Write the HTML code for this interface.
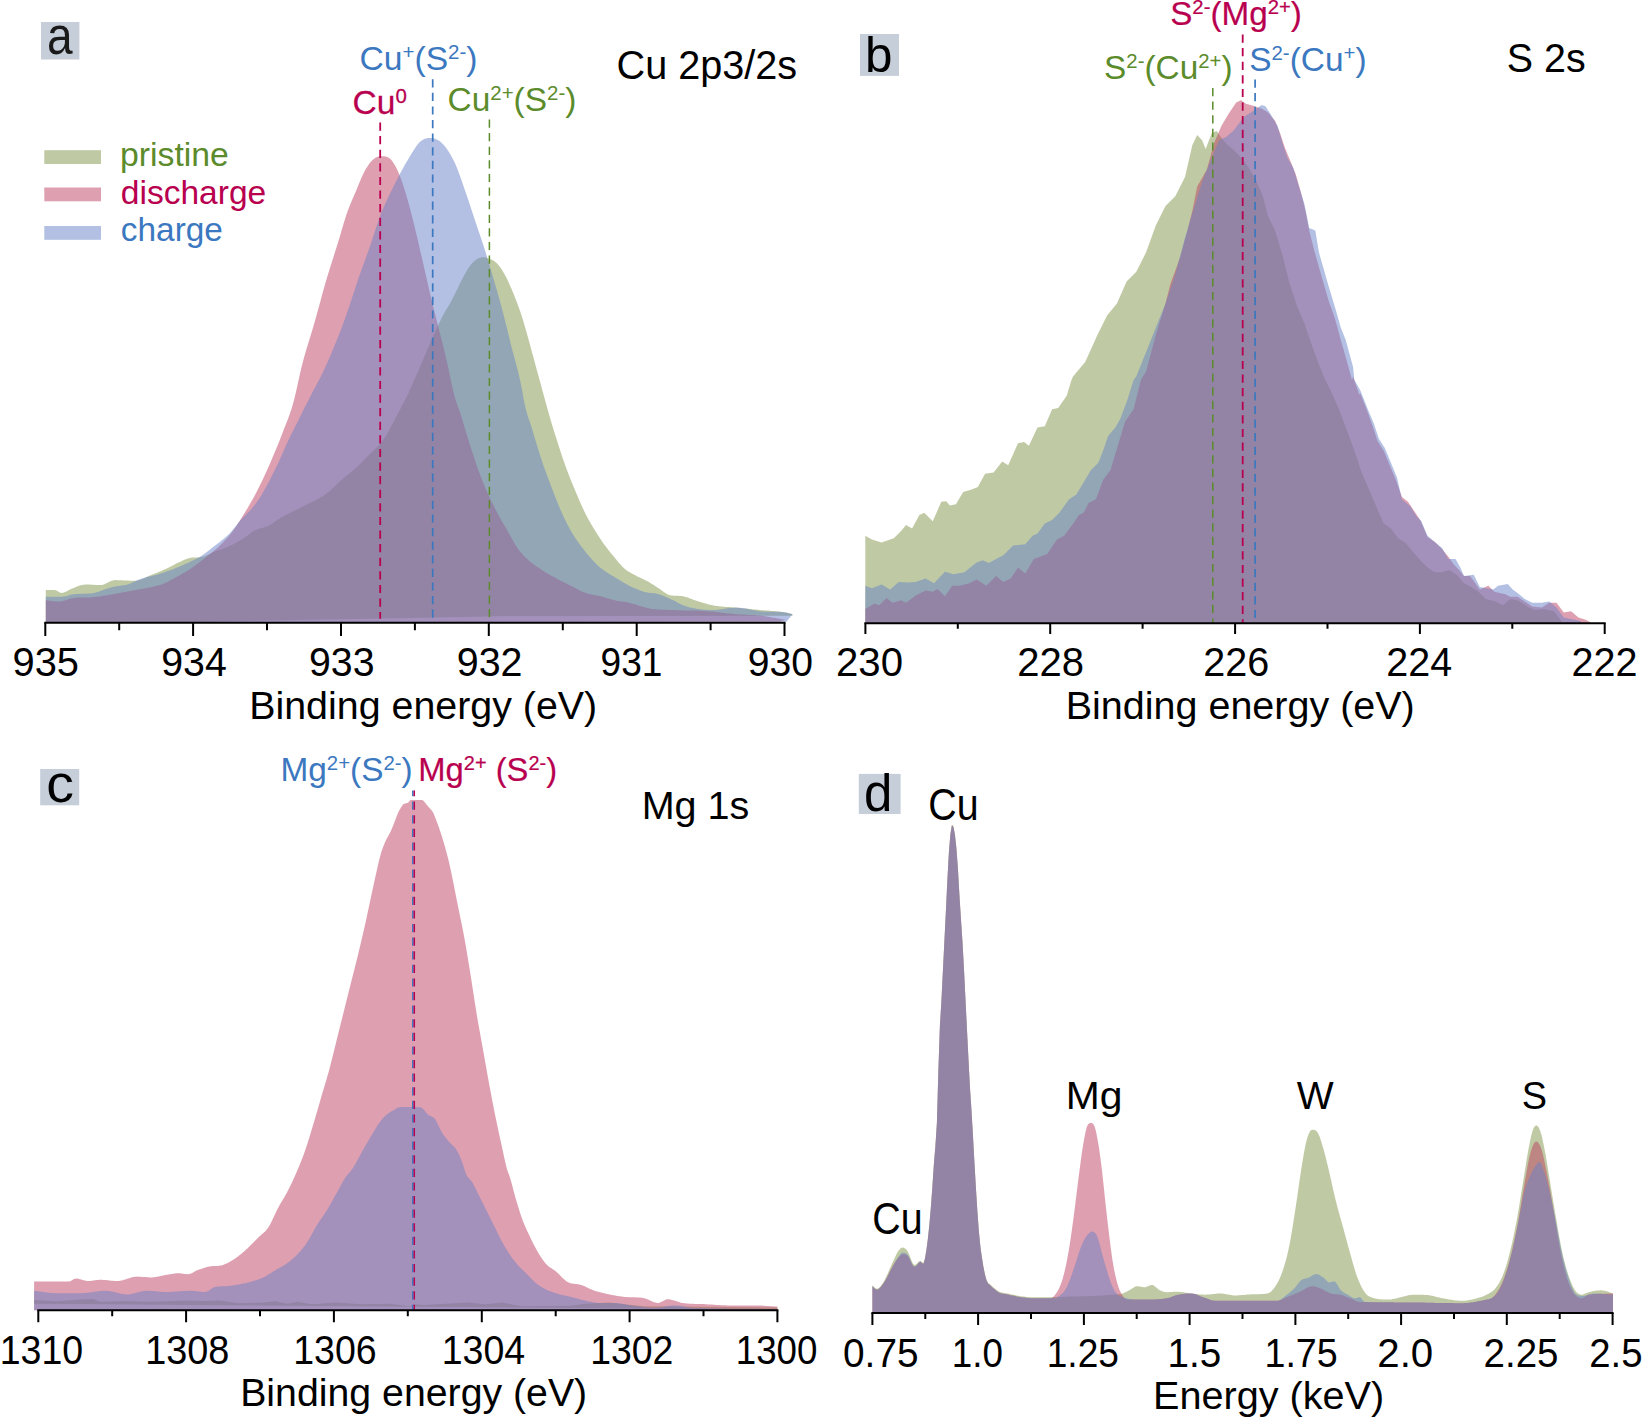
<!DOCTYPE html>
<html><head><meta charset="utf-8"><title>XPS and EDX spectra</title>
<style>html,body{margin:0;padding:0;background:#fff}svg{display:block}text{font-family:"Liberation Sans",Arial,Helvetica,sans-serif}</style>
</head><body>
<svg width="1643" height="1418" viewBox="0 0 1643 1418">
<rect width="1643" height="1418" fill="#fff"/>
<path d="M45.8,622.7L45.8,589.9L47.8,589.9L49.8,589.9L51.8,589.9L53.8,589.9L55.8,590.2L57.8,591.3L59.8,592.5L61.8,593.0L63.8,592.6L65.8,591.8L67.8,590.7L69.8,589.6L71.8,588.7L73.8,587.9L75.8,587.1L77.8,586.3L79.8,585.6L81.8,585.1L83.8,584.7L85.8,584.5L87.8,584.5L89.8,584.6L91.8,584.7L93.8,584.8L95.8,584.9L97.8,584.9L99.8,585.0L101.8,584.9L103.8,584.4L105.8,583.6L107.8,582.6L109.8,581.6L111.8,580.8L113.8,580.2L115.8,580.1L117.8,580.2L119.8,580.2L121.8,580.3L123.8,580.4L125.8,580.5L127.8,580.6L129.8,580.7L131.8,580.8L133.8,580.8L135.8,580.8L137.8,580.5L139.8,579.9L141.8,579.2L143.8,578.4L145.8,577.4L147.8,576.5L149.8,575.6L151.8,574.7L153.8,574.0L155.8,573.2L157.8,572.4L159.8,571.5L161.8,570.7L163.8,569.8L165.8,568.9L167.8,568.0L169.8,567.0L171.8,565.9L173.8,564.9L175.8,563.8L177.8,562.8L179.8,561.9L181.8,561.0L183.8,560.1L185.8,559.2L187.8,558.4L189.8,557.9L191.8,557.6L193.8,557.5L195.8,557.5L197.8,557.5L199.8,557.3L201.8,557.0L203.8,556.4L205.8,555.7L207.8,554.8L209.8,553.9L211.8,553.0L213.8,552.1L215.8,551.3L217.8,550.6L219.8,549.9L221.8,549.2L223.8,548.4L225.8,547.5L227.8,546.7L229.8,545.8L231.8,544.9L233.8,543.9L235.8,542.9L237.8,541.8L239.8,540.7L241.8,539.5L243.8,538.1L245.8,536.7L247.8,535.2L249.8,533.7L251.8,532.3L253.8,531.0L255.8,530.0L257.8,529.3L259.8,528.6L261.8,528.0L263.8,527.4L265.8,526.8L267.8,526.0L269.8,524.9L271.8,523.8L273.8,522.5L275.8,521.1L277.8,519.8L279.8,518.4L281.8,517.2L283.8,516.0L285.8,514.9L287.8,513.9L289.8,512.9L291.8,511.9L293.8,511.0L295.8,510.0L297.8,509.0L299.8,508.0L301.8,507.1L303.8,506.1L305.8,505.1L307.8,504.1L309.8,503.1L311.8,502.0L313.8,501.0L315.8,499.9L317.8,498.9L319.8,497.8L321.8,496.7L323.8,495.4L325.8,494.1L327.8,492.6L329.8,490.9L331.8,489.1L333.8,487.2L335.8,485.3L337.8,483.3L339.8,481.5L341.8,479.7L343.8,478.0L345.8,476.3L347.8,474.7L349.8,473.1L351.8,471.5L353.8,469.8L355.8,468.0L357.8,466.2L359.8,464.2L361.8,462.2L363.8,460.2L365.8,458.2L367.8,456.1L369.8,454.1L371.8,452.1L373.8,450.2L375.8,448.4L377.8,446.4L379.8,444.2L381.8,441.7L383.8,438.8L385.8,435.7L387.8,432.4L389.8,428.8L391.8,425.1L393.8,421.4L395.8,417.5L397.8,413.7L399.8,409.9L401.8,406.1L403.8,402.3L405.8,398.4L407.8,394.4L409.8,390.1L411.8,385.7L413.8,381.1L415.8,376.5L417.8,371.9L419.8,367.3L421.8,362.6L423.8,357.9L425.8,353.2L427.8,348.5L429.8,343.9L431.8,339.3L433.8,334.7L435.8,330.2L437.8,325.9L439.8,321.7L441.8,317.6L443.8,313.8L445.8,310.2L447.8,307.0L449.8,303.7L451.8,300.1L453.8,296.1L455.8,292.0L457.8,287.9L459.8,283.8L461.8,279.8L463.8,276.0L465.8,272.4L467.8,269.0L469.8,266.1L471.8,263.6L473.8,261.6L475.8,259.9L477.8,258.6L479.8,257.7L481.8,257.2L483.8,257.2L485.8,257.6L487.8,258.2L489.8,259.0L491.8,259.7L493.8,260.8L495.8,262.3L497.8,264.3L499.8,266.7L501.8,269.6L503.8,272.9L505.8,276.6L507.8,280.6L509.8,284.9L511.8,289.6L513.8,294.5L515.8,299.5L517.8,304.7L519.8,310.2L521.8,316.3L523.8,322.8L525.8,329.7L527.8,336.7L529.8,344.0L531.8,351.4L533.8,358.8L535.8,366.2L537.8,373.5L539.8,380.8L541.8,388.2L543.8,395.6L545.8,402.8L547.8,410.0L549.8,417.1L551.8,423.9L553.8,430.4L555.8,436.8L557.8,443.1L559.8,449.3L561.8,455.4L563.8,461.3L565.8,466.9L567.8,472.3L569.8,477.5L571.8,482.4L573.8,487.3L575.8,492.0L577.8,496.8L579.8,501.4L581.8,506.0L583.8,510.3L585.8,514.4L587.8,518.3L589.8,521.8L591.8,525.2L593.8,528.5L595.8,531.8L597.8,535.0L599.8,538.0L601.8,541.0L603.8,543.9L605.8,546.6L607.8,549.2L609.8,551.8L611.8,554.2L613.8,556.6L615.8,559.0L617.8,561.4L619.8,563.8L621.8,566.0L623.8,568.1L625.8,569.8L627.8,571.2L629.8,572.3L631.8,573.4L633.8,574.5L635.8,575.6L637.8,576.7L639.8,577.6L641.8,578.5L643.8,579.5L645.8,580.5L647.8,581.5L649.8,582.6L651.8,583.9L653.8,585.1L655.8,586.4L657.8,587.7L659.8,589.0L661.8,590.4L663.8,591.9L665.8,593.2L667.8,594.4L669.8,595.2L671.8,595.6L673.8,595.8L675.8,595.8L677.8,595.8L679.8,595.9L681.8,596.0L683.8,596.4L685.8,596.9L687.8,597.6L689.8,598.4L691.8,599.1L693.8,599.9L695.8,600.6L697.8,601.2L699.8,601.8L701.8,602.4L703.8,603.1L705.8,603.6L707.8,604.2L709.8,604.7L711.8,605.1L713.8,605.5L715.8,605.9L717.8,606.1L719.8,606.4L721.8,606.5L723.8,606.7L725.8,606.9L727.8,607.0L729.8,607.1L731.8,607.2L733.8,607.4L735.8,607.6L737.8,607.8L739.8,608.0L741.8,608.2L743.8,608.4L745.8,608.6L747.8,608.8L749.8,609.0L751.8,609.2L753.8,609.4L755.8,609.6L757.8,609.8L759.8,610.0L761.8,610.2L763.8,610.3L765.8,610.5L767.8,610.6L769.8,610.8L771.8,610.9L773.8,611.0L775.8,611.2L777.8,611.4L779.8,611.6L781.8,611.9L783.8,612.2L785.8,612.6L787.8,613.1L789.8,613.6L791.8,614.1L792.5,614.2L792.5,615.7 L500,616.2 L400,618.2 L150,622.7 Z" fill="#7f954b" fill-opacity="0.50"/>
<path d="M45.8,622.7L45.8,600.3L47.8,600.5L49.8,600.8L51.8,601.0L53.8,601.2L55.8,601.4L57.8,601.5L59.8,601.5L61.8,601.3L63.8,600.8L65.8,600.2L67.8,599.5L69.8,598.8L71.8,598.2L73.8,597.9L75.8,597.7L77.8,597.6L79.8,597.5L81.8,597.5L83.8,597.5L85.8,597.5L87.8,597.4L89.8,597.4L91.8,597.3L93.8,597.1L95.8,596.9L97.8,596.6L99.8,596.4L101.8,596.1L103.8,595.8L105.8,595.4L107.8,595.1L109.8,594.7L111.8,594.4L113.8,594.1L115.8,593.7L117.8,593.3L119.8,593.0L121.8,592.6L123.8,592.2L125.8,591.8L127.8,591.4L129.8,591.1L131.8,590.7L133.8,590.3L135.8,589.9L137.8,589.6L139.8,589.2L141.8,588.9L143.8,588.5L145.8,588.2L147.8,587.8L149.8,587.4L151.8,586.9L153.8,586.5L155.8,586.0L157.8,585.6L159.8,585.0L161.8,584.4L163.8,583.6L165.8,582.7L167.8,581.7L169.8,580.6L171.8,579.5L173.8,578.4L175.8,577.3L177.8,576.3L179.8,575.2L181.8,574.0L183.8,572.9L185.8,571.7L187.8,570.5L189.8,569.2L191.8,567.9L193.8,566.5L195.8,565.1L197.8,563.6L199.8,562.0L201.8,560.5L203.8,558.9L205.8,557.3L207.8,555.7L209.8,554.2L211.8,552.6L213.8,551.0L215.8,549.3L217.8,547.5L219.8,545.6L221.8,543.7L223.8,541.6L225.8,539.6L227.8,537.4L229.8,535.0L231.8,532.5L233.8,529.8L235.8,526.9L237.8,523.8L239.8,520.7L241.8,517.5L243.8,514.3L245.8,511.1L247.8,507.8L249.8,504.3L251.8,500.8L253.8,497.2L255.8,493.4L257.8,489.5L259.8,485.5L261.8,481.4L263.8,477.2L265.8,472.9L267.8,468.5L269.8,463.9L271.8,459.3L273.8,454.6L275.8,449.8L277.8,444.9L279.8,439.9L281.8,434.7L283.8,429.5L285.8,424.5L287.8,419.5L289.8,414.1L291.8,408.1L293.8,401.0L295.8,392.7L297.8,383.7L299.8,374.6L301.8,366.0L303.8,358.4L305.8,351.3L307.8,344.7L309.8,338.2L311.8,331.7L313.8,325.0L315.8,318.0L317.8,310.7L319.8,303.4L321.8,296.1L323.8,288.8L325.8,281.8L327.8,275.0L329.8,268.5L331.8,262.2L333.8,255.9L335.8,249.6L337.8,243.3L339.8,236.7L341.8,229.8L343.8,223.0L345.8,216.6L347.8,210.8L349.8,205.6L351.8,200.8L353.8,196.1L355.8,191.4L357.8,186.6L359.8,181.8L361.8,177.1L363.8,172.8L365.8,169.1L367.8,165.9L369.8,163.1L371.8,160.8L373.8,159.0L375.8,157.6L377.8,156.8L379.8,156.3L381.8,156.2L383.8,156.2L385.8,156.5L387.8,157.2L389.8,158.5L391.8,160.6L393.8,163.4L395.8,166.8L397.8,170.9L399.8,175.7L401.8,181.0L403.8,187.0L405.8,193.5L407.8,200.5L409.8,207.7L411.8,215.4L413.8,223.5L415.8,231.7L417.8,240.1L419.8,248.7L421.8,257.5L423.8,266.2L425.8,275.0L427.8,283.8L429.8,292.4L431.8,300.8L433.8,308.9L435.8,316.8L437.8,324.7L439.8,332.7L441.8,340.6L443.8,348.5L445.8,356.7L447.8,365.6L449.8,375.3L451.8,384.8L453.8,393.5L455.8,400.7L457.8,406.2L459.8,411.8L461.8,418.1L463.8,424.7L465.8,431.5L467.8,438.1L469.8,444.4L471.8,450.6L473.8,456.7L475.8,462.7L477.8,468.4L479.8,473.9L481.8,479.1L483.8,484.2L485.8,489.0L487.8,493.6L489.8,498.0L491.8,502.2L493.8,506.1L495.8,510.0L497.8,513.7L499.8,517.4L501.8,520.9L503.8,524.4L505.8,527.8L507.8,531.3L509.8,534.9L511.8,538.6L513.8,542.2L515.8,545.6L517.8,548.6L519.8,551.2L521.8,553.6L523.8,555.7L525.8,557.7L527.8,559.6L529.8,561.4L531.8,563.0L533.8,564.5L535.8,566.0L537.8,567.3L539.8,568.6L541.8,570.0L543.8,571.3L545.8,572.5L547.8,573.7L549.8,574.8L551.8,576.0L553.8,577.1L555.8,578.1L557.8,579.2L559.8,580.2L561.8,581.2L563.8,582.2L565.8,583.2L567.8,584.2L569.8,585.2L571.8,586.2L573.8,587.2L575.8,588.3L577.8,589.4L579.8,590.5L581.8,591.4L583.8,592.3L585.8,593.1L587.8,593.7L589.8,594.2L591.8,594.6L593.8,595.0L595.8,595.3L597.8,595.7L599.8,596.1L601.8,596.6L603.8,597.2L605.8,597.8L607.8,598.4L609.8,599.0L611.8,599.6L613.8,600.1L615.8,600.6L617.8,600.9L619.8,601.2L621.8,601.5L623.8,601.8L625.8,602.1L627.8,602.4L629.8,602.9L631.8,603.4L633.8,603.9L635.8,604.6L637.8,605.2L639.8,605.9L641.8,606.5L643.8,607.1L645.8,607.7L647.8,608.1L649.8,608.5L651.8,608.9L653.8,609.1L655.8,609.3L657.8,609.5L659.8,609.6L661.8,609.7L663.8,609.8L665.8,609.8L667.8,609.9L669.8,609.9L671.8,610.0L673.8,610.1L675.8,610.2L677.8,610.2L679.8,610.3L681.8,610.3L683.8,610.4L685.8,610.4L687.8,610.4L689.8,610.4L691.8,610.4L693.8,610.5L695.8,610.5L697.8,610.6L699.8,610.7L701.8,610.8L703.8,610.9L705.8,611.0L707.8,611.2L709.8,611.4L711.8,611.6L713.8,611.8L715.8,612.0L717.8,612.2L719.8,612.5L721.8,612.7L723.8,612.9L725.8,613.2L727.8,613.4L729.8,613.6L731.8,613.8L733.8,614.0L735.8,614.2L737.8,614.3L739.8,614.4L741.8,614.5L743.8,614.6L745.8,614.7L747.8,614.8L749.8,614.9L751.8,615.0L753.8,615.1L755.8,615.2L757.8,615.4L759.8,615.6L761.8,615.8L763.8,616.1L765.8,616.3L767.8,616.7L769.8,617.0L771.8,617.4L773.8,617.7L775.8,618.1L777.8,618.5L779.8,618.8L781.8,619.2L783.8,619.6L785.2,619.8L779.2,621.7 Z" fill="#bd4161" fill-opacity="0.50"/>
<path d="M45.8,622.7L45.8,596.7L47.8,596.7L49.8,596.7L51.8,596.7L53.8,596.7L55.8,596.7L57.8,596.7L59.8,596.7L61.8,596.7L63.8,596.5L65.8,596.2L67.8,595.7L69.8,595.1L71.8,594.6L73.8,594.2L75.8,594.0L77.8,593.9L79.8,593.8L81.8,593.7L83.8,593.7L85.8,593.7L87.8,593.6L89.8,593.5L91.8,593.3L93.8,592.9L95.8,592.4L97.8,591.9L99.8,591.2L101.8,590.5L103.8,589.8L105.8,589.1L107.8,588.4L109.8,587.7L111.8,587.2L113.8,586.7L115.8,586.4L117.8,586.1L119.8,585.9L121.8,585.6L123.8,585.3L125.8,584.9L127.8,584.4L129.8,583.7L131.8,582.8L133.8,581.9L135.8,581.0L137.8,580.1L139.8,579.2L141.8,578.5L143.8,577.9L145.8,577.3L147.8,576.8L149.8,576.4L151.8,576.0L153.8,575.5L155.8,575.0L157.8,574.4L159.8,573.8L161.8,573.2L163.8,572.5L165.8,571.8L167.8,571.1L169.8,570.4L171.8,569.7L173.8,568.9L175.8,568.1L177.8,567.3L179.8,566.5L181.8,565.6L183.8,564.7L185.8,563.8L187.8,562.9L189.8,562.0L191.8,561.1L193.8,560.1L195.8,559.1L197.8,558.0L199.8,556.9L201.8,555.6L203.8,554.2L205.8,552.8L207.8,551.3L209.8,549.7L211.8,548.1L213.8,546.5L215.8,544.9L217.8,543.4L219.8,541.9L221.8,540.3L223.8,538.7L225.8,537.0L227.8,535.2L229.8,533.2L231.8,531.0L233.8,528.5L235.8,526.0L237.8,523.5L239.8,521.0L241.8,518.8L243.8,516.7L245.8,514.8L247.8,512.8L249.8,510.7L251.8,508.4L253.8,506.1L255.8,503.5L257.8,500.8L259.8,497.8L261.8,494.5L263.8,491.0L265.8,487.4L267.8,483.7L269.8,479.9L271.8,476.1L273.8,472.1L275.8,468.0L277.8,463.9L279.8,459.5L281.8,455.0L283.8,450.4L285.8,445.8L287.8,441.4L289.8,437.2L291.8,433.2L293.8,429.2L295.8,425.3L297.8,421.4L299.8,417.3L301.8,413.3L303.8,409.3L305.8,405.3L307.8,401.4L309.8,397.4L311.8,393.6L313.8,389.8L315.8,386.1L317.8,382.3L319.8,378.4L321.8,374.4L323.8,370.3L325.8,366.0L327.8,361.6L329.8,357.0L331.8,352.3L333.8,347.5L335.8,342.6L337.8,337.6L339.8,332.5L341.8,327.2L343.8,321.9L345.8,316.3L347.8,310.6L349.8,304.7L351.8,298.6L353.8,292.4L355.8,286.3L357.8,280.4L359.8,274.6L361.8,269.0L363.8,263.5L365.8,258.0L367.8,252.4L369.8,246.8L371.8,240.9L373.8,234.7L375.8,228.4L377.8,222.4L379.8,216.7L381.8,211.6L383.8,206.9L385.8,202.5L387.8,198.3L389.8,194.1L391.8,189.9L393.8,185.8L395.8,181.8L397.8,177.9L399.8,174.1L401.8,170.4L403.8,166.8L405.8,163.3L407.8,159.9L409.8,156.6L411.8,153.3L413.8,150.0L415.8,146.9L417.8,144.2L419.8,142.1L421.8,140.4L423.8,139.2L425.8,138.4L427.8,138.0L429.8,137.9L431.8,138.0L433.8,138.3L435.8,138.9L437.8,139.9L439.8,141.2L441.8,143.0L443.8,145.1L445.8,147.5L447.8,150.3L449.8,153.4L451.8,156.9L453.8,160.8L455.8,165.1L457.8,170.0L459.8,175.4L461.8,181.1L463.8,187.0L465.8,192.8L467.8,198.6L469.8,204.6L471.8,210.7L473.8,216.8L475.8,222.8L477.8,228.7L479.8,234.6L481.8,240.6L483.8,246.7L485.8,253.1L487.8,259.6L489.8,266.3L491.8,273.1L493.8,279.9L495.8,286.7L497.8,293.6L499.8,300.7L501.8,308.1L503.8,315.7L505.8,323.7L507.8,331.8L509.8,340.0L511.8,348.0L513.8,355.6L515.8,362.9L517.8,370.5L519.8,378.9L521.8,388.6L523.8,399.9L525.8,409.3L527.8,416.3L529.8,422.1L531.8,428.1L533.8,434.8L535.8,441.4L537.8,448.0L539.8,454.5L541.8,460.6L543.8,466.5L545.8,472.1L547.8,477.5L549.8,482.8L551.8,488.0L553.8,493.3L555.8,498.4L557.8,503.5L559.8,508.3L561.8,512.8L563.8,517.2L565.8,521.3L567.8,525.2L569.8,528.9L571.8,532.5L573.8,535.7L575.8,538.7L577.8,541.6L579.8,544.4L581.8,547.1L583.8,549.7L585.8,552.3L587.8,554.7L589.8,557.0L591.8,559.3L593.8,561.4L595.8,563.4L597.8,565.4L599.8,567.2L601.8,568.8L603.8,570.3L605.8,571.7L607.8,573.0L609.8,574.2L611.8,575.4L613.8,576.6L615.8,577.9L617.8,579.1L619.8,580.3L621.8,581.5L623.8,582.7L625.8,583.8L627.8,584.9L629.8,585.9L631.8,586.9L633.8,587.9L635.8,588.8L637.8,589.6L639.8,590.4L641.8,591.1L643.8,591.8L645.8,592.3L647.8,592.6L649.8,592.9L651.8,593.1L653.8,593.3L655.8,593.6L657.8,594.0L659.8,594.6L661.8,595.3L663.8,596.1L665.8,596.9L667.8,597.8L669.8,598.7L671.8,599.7L673.8,600.6L675.8,601.6L677.8,602.7L679.8,603.8L681.8,604.7L683.8,605.5L685.8,606.2L687.8,606.8L689.8,607.4L691.8,607.8L693.8,608.2L695.8,608.6L697.8,608.9L699.8,609.2L701.8,609.5L703.8,609.7L705.8,609.8L707.8,610.0L709.8,610.0L711.8,610.1L713.8,610.0L715.8,609.9L717.8,609.7L719.8,609.5L721.8,609.2L723.8,608.9L725.8,608.6L727.8,608.3L729.8,608.1L731.8,607.9L733.8,607.7L735.8,607.6L737.8,607.7L739.8,607.8L741.8,608.0L743.8,608.3L745.8,608.6L747.8,609.0L749.8,609.4L751.8,609.8L753.8,610.2L755.8,610.6L757.8,610.9L759.8,611.2L761.8,611.4L763.8,611.5L765.8,611.6L767.8,611.7L769.8,611.7L771.8,611.7L773.8,611.7L775.8,611.8L777.8,611.8L779.8,612.0L781.8,612.1L783.8,612.3L785.8,612.6L787.8,613.0L789.8,613.5L791.8,614.0L792.5,614.2L786.5,621.7 Z" fill="#6781c7" fill-opacity="0.50"/>
<line x1="380.2" y1="122.5" x2="380.2" y2="618.7" stroke="#b8004f" stroke-width="1.80" stroke-dasharray="8.2 5.4" stroke-dashoffset="0.0"/>
<line x1="432.7" y1="79.2" x2="432.7" y2="618.7" stroke="#3b78c0" stroke-width="1.70" stroke-dasharray="8.2 5.4" stroke-dashoffset="0.0"/>
<line x1="489.4" y1="119.5" x2="489.4" y2="618.7" stroke="#5b8b2b" stroke-width="1.50" stroke-dasharray="8.2 5.4" stroke-dashoffset="0.0"/>
<path d="M44.3,622.7H785.5" stroke="#000" stroke-width="2.0" fill="none"/>
<path d="M45.3,622.7v13.3M193.1,622.7v13.3M341.0,622.7v13.3M488.8,622.7v13.3M636.7,622.7v13.3M784.5,622.7v13.3M119.2,622.7v7.6M267.0,622.7v7.6M414.9,622.7v7.6M562.8,622.7v7.6M710.6,622.7v7.6" stroke="#000" stroke-width="2.0" fill="none"/>
<text transform="translate(12.48,676.00) scale(0.9844,1)" font-size="40.50" fill="#000">935</text>
<text transform="translate(161.20,676.00) scale(0.9705,1)" font-size="40.50" fill="#000">934</text>
<text transform="translate(309.00,676.00) scale(0.9703,1)" font-size="40.50" fill="#000">933</text>
<text transform="translate(456.70,676.00) scale(0.9741,1)" font-size="40.50" fill="#000">932</text>
<text transform="translate(600.50,676.00) scale(0.9161,1)" font-size="40.50" fill="#000">931</text>
<text transform="translate(747.71,676.00) scale(0.9665,1)" font-size="40.50" fill="#000">930</text>
<text transform="translate(249.17,719.00) scale(1.0232,1)" font-size="38.50" fill="#000">Binding energy (eV)</text>
<rect x="41.0" y="22.0" width="38.4" height="37.5" fill="#c6ced9"/>
<text transform="translate(46.94,53.60) scale(0.8697,1)" font-size="53.00" fill="#1a1a1a">a</text>
<text transform="translate(616.54,78.50) scale(0.9785,1)" font-size="40.50" fill="#000">Cu 2p3/2s</text>
<rect x="44.3" y="150.2" width="56.7" height="13.8" fill="#7f954b" fill-opacity="0.50"/>
<text transform="translate(120.06,165.60) scale(0.9934,1)" font-size="34.00" fill="#5b8b2b">pristine</text>
<rect x="44.3" y="187.5" width="56.7" height="13.8" fill="#bd4161" fill-opacity="0.50"/>
<text transform="translate(120.82,204.00) scale(0.9869,1)" font-size="34.00" fill="#b8004f">discharge</text>
<rect x="44.3" y="226.0" width="56.7" height="13.8" fill="#6781c7" fill-opacity="0.50"/>
<text transform="translate(120.83,240.50) scale(0.9822,1)" font-size="34.00" fill="#3b78c0">charge</text>
<text transform="translate(359.52,70.30) scale(1.0189,1)" font-size="33.00" fill="#3b78c0">Cu<tspan font-size="20.13" dy="-11.06">+</tspan><tspan dy="11.06">(S</tspan><tspan font-size="20.13" dy="-11.06">2-</tspan><tspan dy="11.06">)</tspan></text>
<text transform="translate(352.52,114.30) scale(1.0163,1)" font-size="33.00" fill="#b8004f" stroke="#b8004f" stroke-width="0.25">Cu<tspan font-size="20.13" dy="-11.06">0</tspan></text>
<text transform="translate(447.52,111.00) scale(1.0148,1)" font-size="33.00" fill="#5b8b2b">Cu<tspan font-size="20.13" dy="-11.06">2+</tspan><tspan dy="11.06">(S</tspan><tspan font-size="20.13" dy="-11.06">2-</tspan><tspan dy="11.06">)</tspan></text>
<path d="M865.3,623.3L865.3,535.8L871.9,539.5L881.6,542.6L893.8,538.2L901.1,530.9L906.0,524.9L912.1,528.5L919.4,515.1L924.2,512.7L932.8,521.2L941.3,501.7L946.2,501.2L949.8,505.4L955.9,504.2L963.2,492.0L971.7,489.6L977.8,487.1L985.1,473.7L993.6,472.5L1002.2,461.6L1008.2,465.2L1018.0,443.3L1024.1,442.1L1028.9,445.7L1037.5,427.5L1044.8,426.3L1052.1,409.2L1058.2,408.0L1066.7,395.8L1071.5,380.0L1073.0,376.5L1085.2,361.9L1097.4,335.1L1107.1,315.6L1116.9,303.5L1126.6,281.6L1136.3,271.8L1146.1,252.3L1155.8,225.6L1165.5,206.1L1175.3,196.3L1185.0,176.9L1192.3,145.2L1197.2,135.0L1202.1,140.3L1205.7,148.9L1211.8,133.0L1216.7,131.1L1221.5,137.9L1226.4,144.0L1233.7,150.1L1241.0,157.4L1248.3,167.1L1255.6,179.3L1262.9,196.3L1267.8,215.8L1275.1,230.4L1282.4,254.8L1289.7,284.0L1297.0,305.9L1304.3,322.9L1311.6,344.8L1318.9,364.3L1325.2,380.0L1326.2,381.4L1332.5,394.6L1339.8,411.6L1347.1,431.1L1354.4,450.6L1361.7,472.5L1369.0,489.6L1376.3,506.6L1383.6,523.6L1390.9,528.5L1398.2,538.2L1405.5,543.1L1412.8,551.6L1420.2,560.2L1427.5,567.5L1434.8,572.3L1442.1,572.3L1449.4,569.9L1456.7,574.8L1464.0,583.3L1471.3,586.9L1478.6,591.8L1485.9,599.1L1495.6,601.5L1502.9,605.2L1510.2,599.1L1517.5,600.3L1527.3,606.4L1534.6,610.1L1544.3,608.9L1554.1,611.3L1561.4,621.0L1561.4,623.3 Z" fill="#7f954b" fill-opacity="0.50"/>
<path d="M865.3,623.3L865.3,608.9L874.4,603.5L879.2,605.2L886.5,597.9L892.6,602.8L901.1,600.3L906.0,602.8L915.7,595.5L925.5,590.6L932.8,591.8L937.6,588.9L945.0,596.2L952.2,585.7L959.6,585.7L969.3,583.3L976.6,579.6L986.3,585.7L996.1,576.0L1003.4,582.1L1010.7,578.4L1018.0,567.5L1025.3,573.5L1033.8,558.9L1047.2,554.1L1056.9,539.5L1064.2,535.8L1074.0,522.4L1078.8,515.1L1083.7,512.7L1088.6,502.9L1095.9,499.3L1103.2,479.8L1110.5,470.1L1117.8,445.7L1125.1,421.4L1133.6,409.2L1140.9,380.0L1146.1,371.6L1155.8,335.1L1165.5,303.5L1170.4,284.0L1180.2,257.2L1187.5,230.4L1192.3,210.9L1197.2,186.6L1206.9,169.6L1214.2,142.8L1221.5,125.7L1228.8,113.6L1236.2,102.6L1241.0,100.2L1245.9,103.8L1253.2,105.8L1261.7,108.7L1267.8,112.3L1275.1,120.9L1280.0,133.0L1284.8,147.6L1290.9,162.2L1295.8,174.4L1300.7,191.5L1305.5,210.9L1309.2,230.4L1314.1,249.9L1318.9,266.9L1323.8,284.0L1328.7,301.0L1334.8,318.1L1340.8,340.0L1345.7,357.0L1352.0,380.0L1353.0,376.5L1359.3,394.6L1360.3,393.5L1366.6,409.2L1372.7,426.3L1377.5,440.9L1383.6,450.6L1389.7,465.2L1395.8,479.8L1401.9,496.9L1408.0,501.7L1412.8,509.0L1420.2,520.0L1427.5,537.0L1434.8,541.9L1442.1,549.2L1448.2,556.5L1454.2,565.0L1459.1,569.9L1464.0,576.0L1470.1,576.0L1479.8,589.4L1488.3,585.7L1494.4,591.8L1505.4,594.2L1510.2,596.7L1517.5,596.7L1524.8,601.5L1532.2,606.4L1541.9,607.6L1549.2,602.8L1556.5,602.8L1563.8,612.5L1571.1,611.3L1578.4,617.4L1585.7,619.8L1590.6,622.2L1590.6,623.3 Z" fill="#bd4161" fill-opacity="0.50"/>
<path d="M865.3,623.3L865.3,585.7L871.9,588.2L881.6,584.5L890.2,589.4L898.7,582.1L908.4,582.6L915.7,582.1L925.5,578.4L934.0,583.3L945.0,571.8L953.5,574.3L964.4,572.3L976.6,562.6L982.7,560.2L988.8,563.1L996.1,558.9L1003.4,555.3L1013.1,545.5L1025.3,544.3L1032.6,535.8L1037.5,533.4L1044.8,523.6L1052.1,520.0L1059.4,512.7L1069.1,499.3L1076.4,494.4L1083.7,482.2L1091.0,470.1L1098.3,462.8L1103.2,450.6L1108.1,436.0L1115.4,427.5L1120.2,418.9L1127.5,399.5L1133.6,380.0L1136.3,376.5L1146.1,352.1L1155.8,327.8L1165.5,303.5L1175.3,274.2L1185.0,237.7L1192.3,213.4L1202.1,181.7L1211.8,157.4L1219.1,140.3L1226.4,136.7L1233.7,130.6L1243.5,117.2L1253.2,111.1L1261.7,105.0L1265.4,106.3L1270.2,113.6L1277.5,125.7L1282.4,142.8L1287.3,157.4L1293.4,168.3L1298.2,184.2L1304.3,203.6L1309.2,228.0L1315.3,230.4L1318.9,252.3L1323.8,269.4L1328.7,286.4L1336.0,310.8L1340.8,327.8L1345.7,340.0L1353.0,366.8L1354.4,380.0L1360.4,390.4L1367.8,409.2L1373.9,423.8L1378.8,438.4L1384.9,448.2L1390.9,462.8L1397.0,477.4L1401.9,499.3L1410.4,506.6L1416.5,516.3L1421.4,521.2L1427.5,535.8L1434.8,541.9L1442.1,548.0L1448.2,558.9L1455.5,558.9L1460.3,567.5L1464.0,576.0L1473.7,574.8L1479.8,586.9L1493.2,589.4L1498.1,585.7L1507.8,584.0L1512.7,589.4L1517.5,593.0L1524.8,599.1L1532.2,602.8L1541.9,602.8L1549.2,601.5L1556.5,607.6L1563.8,617.4L1580.8,621.0L1580.8,623.3 Z" fill="#6781c7" fill-opacity="0.50"/>
<line x1="1212.8" y1="88.0" x2="1212.8" y2="623.3" stroke="#5b8b2b" stroke-width="1.50" stroke-dasharray="8.2 5.4" stroke-dashoffset="0.0"/>
<line x1="1242.7" y1="34.5" x2="1242.7" y2="623.3" stroke="#b8004f" stroke-width="1.80" stroke-dasharray="8.2 5.4" stroke-dashoffset="0.0"/>
<line x1="1255.1" y1="79.5" x2="1255.1" y2="623.3" stroke="#3b78c0" stroke-width="1.70" stroke-dasharray="8.2 5.4" stroke-dashoffset="0.0"/>
<path d="M864.4,623.3H1605.7" stroke="#000" stroke-width="2.0" fill="none"/>
<path d="M865.4,623.3v10.8M1050.2,623.3v10.8M1235.1,623.3v10.8M1419.9,623.3v10.8M1604.7,623.3v10.8M957.8,623.3v5.5M1142.6,623.3v5.5M1327.5,623.3v5.5M1512.3,623.3v5.5" stroke="#000" stroke-width="2.0" fill="none"/>
<text transform="translate(836.02,676.00) scale(0.9922,1)" font-size="40.50" fill="#000">230</text>
<text transform="translate(1017.22,676.00) scale(0.9882,1)" font-size="40.50" fill="#000">228</text>
<text transform="translate(1203.25,676.00) scale(0.9773,1)" font-size="40.50" fill="#000">226</text>
<text transform="translate(1386.25,676.00) scale(0.9743,1)" font-size="40.50" fill="#000">224</text>
<text transform="translate(1571.55,676.00) scale(0.9764,1)" font-size="40.50" fill="#000">222</text>
<text transform="translate(1065.67,719.00) scale(1.0261,1)" font-size="38.50" fill="#000">Binding energy (eV)</text>
<rect x="860.0" y="34.0" width="39.0" height="41.9" fill="#c6ced9"/>
<text transform="translate(865.09,72.10) scale(0.9867,1)" font-size="50.00" fill="#000">b</text>
<text transform="translate(1506.80,72.00) scale(0.9497,1)" font-size="41.50" fill="#000">S 2s</text>
<text transform="translate(1170.16,25.00) scale(1.0237,1)" font-size="32.50" fill="#b8004f" stroke="#b8004f" stroke-width="0.20">S<tspan font-size="19.82" dy="-10.89">2-</tspan><tspan dy="10.89">(Mg</tspan><tspan font-size="19.82" dy="-10.89">2+</tspan><tspan dy="10.89">)</tspan></text>
<text transform="translate(1104.06,78.80) scale(1.0269,1)" font-size="32.50" fill="#5b8b2b">S<tspan font-size="19.82" dy="-10.89">2-</tspan><tspan dy="10.89">(Cu</tspan><tspan font-size="19.82" dy="-10.89">2+</tspan><tspan dy="10.89">)</tspan></text>
<text transform="translate(1249.16,70.60) scale(1.0299,1)" font-size="32.50" fill="#3b78c0">S<tspan font-size="19.82" dy="-10.89">2-</tspan><tspan dy="10.89">(Cu</tspan><tspan font-size="19.82" dy="-10.89">+</tspan><tspan dy="10.89">)</tspan></text>
<path d="M34.1,1303.8L34.1,1300.1L56.5,1301.3L80.9,1299.4L93.0,1298.9L100.3,1301.8L127.1,1300.9L146.6,1301.8L166.1,1301.3L185.6,1300.4L205.0,1300.9L219.6,1300.4L239.1,1303.3L263.5,1302.6L275.6,1301.3L287.8,1303.8L297.5,1301.8L312.1,1304.3L336.5,1302.6L360.8,1304.3L390.1,1303.8L409.5,1306.2L414.6,1304.3L424.4,1305.0L468.2,1302.6L485.2,1304.3L502.2,1302.6L521.7,1306.2L570.4,1305.7L585.0,1303.8L609.4,1302.6L619.1,1303.8L643.5,1306.2L777.4,1307.4L777.4,1309.5 Z" fill="#7f954b" fill-opacity="0.50"/>
<path d="M34.1,1310.3L34.1,1281.5L35.1,1281.5L36.1,1281.5L37.1,1281.5L38.1,1281.5L39.1,1281.5L40.1,1281.5L41.1,1281.5L42.1,1281.5L43.1,1281.5L44.1,1281.5L45.1,1281.5L46.1,1281.5L47.1,1281.5L48.1,1281.5L49.1,1281.5L50.1,1281.5L51.1,1281.5L52.1,1281.5L53.1,1281.5L54.1,1281.5L55.1,1281.5L56.1,1281.5L57.1,1281.5L58.1,1281.5L59.1,1281.5L60.1,1281.5L61.1,1281.5L62.1,1281.5L63.1,1281.5L64.1,1281.5L65.1,1281.5L66.1,1281.5L67.1,1281.5L68.1,1281.5L69.1,1281.5L70.1,1281.2L71.1,1280.8L72.1,1280.2L73.1,1279.6L74.1,1279.1L75.1,1278.7L76.1,1278.6L77.1,1278.6L78.1,1278.8L79.1,1279.0L80.1,1279.2L81.1,1279.5L82.1,1279.8L83.1,1280.1L84.1,1280.4L85.1,1280.6L86.1,1280.8L87.1,1281.0L88.1,1281.0L89.1,1281.0L90.1,1280.9L91.1,1280.8L92.1,1280.7L93.1,1280.6L94.1,1280.4L95.1,1280.3L96.1,1280.1L97.1,1280.0L98.1,1279.9L99.1,1279.8L100.1,1279.8L101.1,1279.8L102.1,1279.8L103.1,1279.9L104.1,1280.0L105.1,1280.0L106.1,1280.1L107.1,1280.2L108.1,1280.3L109.1,1280.4L110.1,1280.5L111.1,1280.7L112.1,1280.7L113.1,1280.8L114.1,1280.9L115.1,1281.0L116.1,1281.0L117.1,1281.0L118.1,1281.0L119.1,1280.9L120.1,1280.8L121.1,1280.6L122.1,1280.4L123.1,1280.1L124.1,1279.8L125.1,1279.5L126.1,1279.2L127.1,1278.8L128.1,1278.5L129.1,1278.2L130.1,1277.9L131.1,1277.6L132.1,1277.3L133.1,1277.1L134.1,1276.9L135.1,1276.7L136.1,1276.7L137.1,1276.6L138.1,1276.7L139.1,1276.7L140.1,1276.7L141.1,1276.8L142.1,1276.9L143.1,1276.9L144.1,1277.0L145.1,1277.1L146.1,1277.1L147.1,1277.2L148.1,1277.3L149.1,1277.3L150.1,1277.4L151.1,1277.4L152.1,1277.4L153.1,1277.3L154.1,1277.2L155.1,1277.1L156.1,1276.9L157.1,1276.8L158.1,1276.6L159.1,1276.4L160.1,1276.1L161.1,1275.9L162.1,1275.7L163.1,1275.5L164.1,1275.3L165.1,1275.1L166.1,1274.9L167.1,1274.8L168.1,1274.6L169.1,1274.4L170.1,1274.2L171.1,1274.0L172.1,1273.9L173.1,1273.7L174.1,1273.5L175.1,1273.4L176.1,1273.3L177.1,1273.3L178.1,1273.2L179.1,1273.3L180.1,1273.3L181.1,1273.4L182.1,1273.6L183.1,1273.7L184.1,1273.9L185.1,1274.0L186.1,1274.1L187.1,1274.2L188.1,1274.2L189.1,1274.1L190.1,1273.8L191.1,1273.5L192.1,1273.0L193.1,1272.4L194.1,1271.9L195.1,1271.3L196.1,1270.8L197.1,1270.3L198.1,1269.9L199.1,1269.6L200.1,1269.2L201.1,1268.9L202.1,1268.5L203.1,1268.2L204.1,1267.9L205.1,1267.6L206.1,1267.3L207.1,1267.1L208.1,1266.8L209.1,1266.6L210.1,1266.4L211.1,1266.2L212.1,1266.1L213.1,1266.0L214.1,1266.0L215.1,1266.0L216.1,1266.0L217.1,1265.9L218.1,1265.9L219.1,1265.8L220.1,1265.6L221.1,1265.4L222.1,1265.2L223.1,1264.9L224.1,1264.5L225.1,1264.1L226.1,1263.7L227.1,1263.2L228.1,1262.7L229.1,1262.2L230.1,1261.6L231.1,1261.0L232.1,1260.4L233.1,1259.8L234.1,1259.2L235.1,1258.5L236.1,1257.8L237.1,1257.1L238.1,1256.4L239.1,1255.6L240.1,1254.8L241.1,1254.0L242.1,1253.1L243.1,1252.3L244.1,1251.4L245.1,1250.5L246.1,1249.6L247.1,1248.7L248.1,1247.8L249.1,1246.8L250.1,1245.8L251.1,1244.8L252.1,1243.8L253.1,1242.8L254.1,1241.8L255.1,1240.7L256.1,1239.7L257.1,1238.7L258.1,1237.7L259.1,1236.7L260.1,1235.8L261.1,1234.9L262.1,1234.1L263.1,1233.2L264.1,1232.3L265.1,1231.4L266.1,1230.3L267.1,1229.1L268.1,1227.8L269.1,1226.2L270.1,1224.4L271.1,1222.5L272.1,1220.5L273.1,1218.3L274.1,1216.2L275.1,1214.0L276.1,1211.9L277.1,1209.8L278.1,1207.9L279.1,1206.0L280.1,1204.3L281.1,1202.6L282.1,1200.9L283.1,1199.2L284.1,1197.6L285.1,1195.8L286.1,1194.1L287.1,1192.2L288.1,1190.3L289.1,1188.3L290.1,1186.3L291.1,1184.3L292.1,1182.2L293.1,1180.0L294.1,1177.8L295.1,1175.6L296.1,1173.3L297.1,1171.0L298.1,1168.6L299.1,1166.2L300.1,1163.8L301.1,1161.3L302.1,1158.8L303.1,1156.2L304.1,1153.4L305.1,1150.6L306.1,1147.6L307.1,1144.5L308.1,1141.4L309.1,1138.2L310.1,1134.9L311.1,1131.6L312.1,1128.3L313.1,1125.0L314.1,1121.7L315.1,1118.3L316.1,1114.8L317.1,1111.4L318.1,1107.9L319.1,1104.4L320.1,1101.0L321.1,1097.5L322.1,1094.1L323.1,1090.8L324.1,1087.4L325.1,1084.1L326.1,1080.7L327.1,1077.3L328.1,1073.8L329.1,1070.2L330.1,1066.5L331.1,1062.6L332.1,1058.6L333.1,1054.6L334.1,1050.5L335.1,1046.4L336.1,1042.3L337.1,1038.3L338.1,1034.3L339.1,1030.3L340.1,1026.3L341.1,1022.3L342.1,1018.3L343.1,1014.3L344.1,1010.3L345.1,1006.3L346.1,1002.3L347.1,998.3L348.1,994.3L349.1,990.3L350.1,986.3L351.1,982.3L352.1,978.3L353.1,974.4L354.1,970.4L355.1,966.5L356.1,962.5L357.1,958.5L358.1,954.4L359.1,950.3L360.1,946.1L361.1,941.8L362.1,937.5L363.1,933.2L364.1,928.8L365.1,924.4L366.1,919.9L367.1,915.3L368.1,910.6L369.1,905.9L370.1,901.2L371.1,896.4L372.1,891.8L373.1,887.2L374.1,882.6L375.1,878.0L376.1,873.4L377.1,868.9L378.1,864.5L379.1,860.3L380.1,856.4L381.1,852.8L382.1,849.7L383.1,846.9L384.1,844.4L385.1,842.1L386.1,840.1L387.1,838.1L388.1,836.3L389.1,834.4L390.1,832.4L391.1,830.4L392.1,828.1L393.1,825.7L394.1,823.1L395.1,820.4L396.1,817.8L397.1,815.2L398.1,812.8L399.1,810.7L400.1,808.9L401.1,807.3L402.1,805.8L403.1,804.5L404.1,803.7L405.1,803.4L406.1,803.2L407.1,803.0L408.1,802.7L409.1,801.4L410.1,800.2L411.1,800.0L412.1,800.0L413.1,800.0L414.1,800.0L415.1,800.0L416.1,800.0L417.1,800.0L418.1,800.0L419.1,800.0L420.1,800.0L421.1,800.0L422.1,800.0L423.1,800.4L424.1,801.6L425.1,802.8L426.1,804.0L427.1,805.2L428.1,806.4L429.1,807.6L430.1,808.7L431.1,809.7L432.1,810.9L433.1,812.6L434.1,814.8L435.1,817.2L436.1,819.8L437.1,822.4L438.1,825.2L439.1,828.0L440.1,831.0L441.1,834.1L442.1,837.2L443.1,840.4L444.1,843.8L445.1,847.3L446.1,850.9L447.1,854.7L448.1,858.6L449.1,862.8L450.1,867.2L451.1,871.8L452.1,876.7L453.1,881.6L454.1,886.6L455.1,891.7L456.1,896.8L457.1,901.8L458.1,906.7L459.1,911.5L460.1,916.4L461.1,921.2L462.1,926.2L463.1,931.2L464.1,936.5L465.1,942.0L466.1,947.8L467.1,953.7L468.1,959.8L469.1,965.9L470.1,972.1L471.1,978.3L472.1,984.7L473.1,991.2L474.1,997.8L475.1,1004.3L476.1,1010.6L477.1,1016.7L478.1,1022.5L479.1,1028.1L480.1,1033.6L481.1,1039.1L482.1,1044.6L483.1,1050.2L484.1,1055.8L485.1,1061.5L486.1,1067.1L487.1,1072.7L488.1,1078.3L489.1,1083.7L490.1,1089.1L491.1,1094.4L492.1,1099.7L493.1,1104.8L494.1,1109.9L495.1,1114.9L496.1,1119.8L497.1,1124.6L498.1,1129.3L499.1,1134.0L500.1,1138.6L501.1,1143.1L502.1,1147.6L503.1,1152.2L504.1,1156.9L505.1,1161.5L506.1,1165.8L507.1,1169.6L508.1,1172.5L509.1,1175.1L510.1,1178.1L511.1,1181.5L512.1,1185.1L513.1,1189.0L514.1,1192.8L515.1,1196.4L516.1,1199.9L517.1,1203.3L518.1,1206.6L519.1,1209.8L520.1,1213.0L521.1,1216.0L522.1,1218.8L523.1,1221.4L524.1,1223.9L525.1,1226.2L526.1,1228.5L527.1,1230.7L528.1,1232.8L529.1,1235.0L530.1,1237.1L531.1,1239.2L532.1,1241.3L533.1,1243.3L534.1,1245.2L535.1,1247.1L536.1,1249.0L537.1,1250.7L538.1,1252.5L539.1,1254.2L540.1,1255.8L541.1,1257.3L542.1,1258.8L543.1,1260.3L544.1,1261.6L545.1,1262.9L546.1,1264.0L547.1,1265.1L548.1,1266.0L549.1,1266.8L550.1,1267.5L551.1,1268.1L552.1,1268.7L553.1,1269.4L554.1,1270.0L555.1,1270.7L556.1,1271.5L557.1,1272.4L558.1,1273.4L559.1,1274.3L560.1,1275.4L561.1,1276.4L562.1,1277.4L563.1,1278.4L564.1,1279.3L565.1,1280.2L566.1,1281.0L567.1,1281.7L568.1,1282.3L569.1,1282.8L570.1,1283.1L571.1,1283.4L572.1,1283.6L573.1,1283.7L574.1,1283.8L575.1,1283.9L576.1,1284.0L577.1,1284.1L578.1,1284.2L579.1,1284.4L580.1,1284.7L581.1,1285.0L582.1,1285.3L583.1,1285.7L584.1,1286.1L585.1,1286.6L586.1,1287.0L587.1,1287.5L588.1,1288.0L589.1,1288.4L590.1,1288.9L591.1,1289.3L592.1,1289.8L593.1,1290.2L594.1,1290.5L595.1,1290.9L596.1,1291.2L597.1,1291.5L598.1,1291.8L599.1,1292.1L600.1,1292.3L601.1,1292.6L602.1,1292.8L603.1,1293.1L604.1,1293.3L605.1,1293.5L606.1,1293.7L607.1,1293.9L608.1,1294.1L609.1,1294.4L610.1,1294.6L611.1,1294.8L612.1,1295.0L613.1,1295.2L614.1,1295.3L615.1,1295.5L616.1,1295.7L617.1,1295.9L618.1,1296.0L619.1,1296.2L620.1,1296.3L621.1,1296.5L622.1,1296.6L623.1,1296.7L624.1,1296.9L625.1,1297.0L626.1,1297.1L627.1,1297.1L628.1,1297.2L629.1,1297.2L630.1,1297.2L631.1,1297.3L632.1,1297.3L633.1,1297.3L634.1,1297.3L635.1,1297.3L636.1,1297.4L637.1,1297.4L638.1,1297.4L639.1,1297.5L640.1,1297.6L641.1,1297.7L642.1,1297.8L643.1,1298.0L644.1,1298.2L645.1,1298.5L646.1,1298.8L647.1,1299.2L648.1,1299.6L649.1,1300.1L650.1,1300.5L651.1,1301.0L652.1,1301.4L653.1,1301.8L654.1,1302.2L655.1,1302.5L656.1,1302.7L657.1,1302.9L658.1,1302.9L659.1,1302.8L660.1,1302.5L661.1,1302.1L662.1,1301.6L663.1,1301.0L664.1,1300.4L665.1,1300.0L666.1,1299.6L667.1,1299.3L668.1,1299.3L669.1,1299.3L670.1,1299.5L671.1,1299.7L672.1,1299.9L673.1,1300.2L674.1,1300.5L675.1,1300.8L676.1,1301.1L677.1,1301.5L678.1,1301.8L679.1,1302.1L680.1,1302.4L681.1,1302.7L682.1,1302.9L683.1,1303.0L684.1,1303.2L685.1,1303.3L686.1,1303.4L687.1,1303.5L688.1,1303.6L689.1,1303.7L690.1,1303.7L691.1,1303.8L692.1,1303.8L693.1,1303.8L694.1,1303.9L695.1,1303.9L696.1,1303.9L697.1,1303.9L698.1,1304.0L699.1,1304.0L700.1,1304.0L701.1,1304.0L702.1,1304.1L703.1,1304.1L704.1,1304.1L705.1,1304.2L706.1,1304.3L707.1,1304.3L708.1,1304.4L709.1,1304.4L710.1,1304.5L711.1,1304.6L712.1,1304.6L713.1,1304.7L714.1,1304.8L715.1,1304.8L716.1,1304.9L717.1,1305.0L718.1,1305.0L719.1,1305.1L720.1,1305.1L721.1,1305.2L722.1,1305.2L723.1,1305.3L724.1,1305.3L725.1,1305.3L726.1,1305.3L727.1,1305.4L728.1,1305.4L729.1,1305.4L730.1,1305.4L731.1,1305.4L732.1,1305.4L733.1,1305.4L734.1,1305.4L735.1,1305.4L736.1,1305.4L737.1,1305.4L738.1,1305.4L739.1,1305.4L740.1,1305.4L741.1,1305.4L742.1,1305.4L743.1,1305.4L744.1,1305.4L745.1,1305.4L746.1,1305.4L747.1,1305.4L748.1,1305.4L749.1,1305.4L750.1,1305.4L751.1,1305.4L752.1,1305.4L753.1,1305.4L754.1,1305.4L755.1,1305.4L756.1,1305.4L757.1,1305.4L758.1,1305.5L759.1,1305.5L760.1,1305.5L761.1,1305.6L762.1,1305.6L763.1,1305.7L764.1,1305.8L765.1,1305.8L766.1,1305.9L767.1,1306.0L768.1,1306.0L769.1,1306.1L770.1,1306.2L771.1,1306.2L772.1,1306.3L773.1,1306.3L774.1,1306.4L775.1,1306.5L776.1,1306.5L777.1,1306.6L777.4,1306.6L777.4,1310.3 Z" fill="#bd4161" fill-opacity="0.50"/>
<path d="M34.1,1310.3L34.1,1290.8L35.1,1290.9L36.1,1291.0L37.1,1291.1L38.1,1291.3L39.1,1291.4L40.1,1291.5L41.1,1291.7L42.1,1291.8L43.1,1292.0L44.1,1292.1L45.1,1292.3L46.1,1292.4L47.1,1292.5L48.1,1292.6L49.1,1292.8L50.1,1292.9L51.1,1293.0L52.1,1293.0L53.1,1293.1L54.1,1293.1L55.1,1293.2L56.1,1293.2L57.1,1293.2L58.1,1293.2L59.1,1293.2L60.1,1293.2L61.1,1293.2L62.1,1293.2L63.1,1293.2L64.1,1293.2L65.1,1293.2L66.1,1293.2L67.1,1293.2L68.1,1293.2L69.1,1293.2L70.1,1293.2L71.1,1293.2L72.1,1293.2L73.1,1293.2L74.1,1293.2L75.1,1293.2L76.1,1293.2L77.1,1293.2L78.1,1293.2L79.1,1293.2L80.1,1293.2L81.1,1293.2L82.1,1293.2L83.1,1293.1L84.1,1293.1L85.1,1293.0L86.1,1292.9L87.1,1292.8L88.1,1292.7L89.1,1292.5L90.1,1292.4L91.1,1292.3L92.1,1292.1L93.1,1292.0L94.1,1291.8L95.1,1291.7L96.1,1291.5L97.1,1291.4L98.1,1291.3L99.1,1291.1L100.1,1291.0L101.1,1290.9L102.1,1290.9L103.1,1290.8L104.1,1290.8L105.1,1290.8L106.1,1290.8L107.1,1290.8L108.1,1290.9L109.1,1291.1L110.1,1291.2L111.1,1291.4L112.1,1291.6L113.1,1291.8L114.1,1292.1L115.1,1292.3L116.1,1292.6L117.1,1292.8L118.1,1293.1L119.1,1293.3L120.1,1293.5L121.1,1293.7L122.1,1293.9L123.1,1294.1L124.1,1294.2L125.1,1294.3L126.1,1294.4L127.1,1294.4L128.1,1294.4L129.1,1294.3L130.1,1294.2L131.1,1294.0L132.1,1293.8L133.1,1293.6L134.1,1293.3L135.1,1293.1L136.1,1292.8L137.1,1292.5L138.1,1292.2L139.1,1292.0L140.1,1291.7L141.1,1291.5L142.1,1291.3L143.1,1291.1L144.1,1290.9L145.1,1290.8L146.1,1290.8L147.1,1290.8L148.1,1290.8L149.1,1290.8L150.1,1290.9L151.1,1290.9L152.1,1291.0L153.1,1291.1L154.1,1291.2L155.1,1291.3L156.1,1291.3L157.1,1291.4L158.1,1291.5L159.1,1291.6L160.1,1291.7L161.1,1291.8L162.1,1291.8L163.1,1291.9L164.1,1291.9L165.1,1292.0L166.1,1292.0L167.1,1292.0L168.1,1292.0L169.1,1291.9L170.1,1291.9L171.1,1291.8L172.1,1291.8L173.1,1291.7L174.1,1291.7L175.1,1291.6L176.1,1291.5L177.1,1291.5L178.1,1291.4L179.1,1291.3L180.1,1291.2L181.1,1291.2L182.1,1291.1L183.1,1291.0L184.1,1291.0L185.1,1290.9L186.1,1290.9L187.1,1290.8L188.1,1290.8L189.1,1290.8L190.1,1290.8L191.1,1290.8L192.1,1290.8L193.1,1290.9L194.1,1291.0L195.1,1291.1L196.1,1291.2L197.1,1291.3L198.1,1291.4L199.1,1291.5L200.1,1291.7L201.1,1291.8L202.1,1291.9L203.1,1291.9L204.1,1292.0L205.1,1292.0L206.1,1291.8L207.1,1291.5L208.1,1291.0L209.1,1290.4L210.1,1289.7L211.1,1289.0L212.1,1288.3L213.1,1287.8L214.1,1287.3L215.1,1287.0L216.1,1286.8L217.1,1286.7L218.1,1286.5L219.1,1286.4L220.1,1286.4L221.1,1286.3L222.1,1286.3L223.1,1286.2L224.1,1286.2L225.1,1286.2L226.1,1286.2L227.1,1286.1L228.1,1286.0L229.1,1285.9L230.1,1285.8L231.1,1285.7L232.1,1285.5L233.1,1285.4L234.1,1285.2L235.1,1285.1L236.1,1284.9L237.1,1284.8L238.1,1284.6L239.1,1284.4L240.1,1284.2L241.1,1284.0L242.1,1283.8L243.1,1283.6L244.1,1283.4L245.1,1283.2L246.1,1282.9L247.1,1282.7L248.1,1282.4L249.1,1282.2L250.1,1281.9L251.1,1281.6L252.1,1281.4L253.1,1281.1L254.1,1280.8L255.1,1280.5L256.1,1280.2L257.1,1279.9L258.1,1279.5L259.1,1279.2L260.1,1278.8L261.1,1278.4L262.1,1278.0L263.1,1277.5L264.1,1277.0L265.1,1276.5L266.1,1276.0L267.1,1275.4L268.1,1274.8L269.1,1274.2L270.1,1273.5L271.1,1272.9L272.1,1272.3L273.1,1271.6L274.1,1271.0L275.1,1270.4L276.1,1269.8L277.1,1269.2L278.1,1268.6L279.1,1268.1L280.1,1267.5L281.1,1267.0L282.1,1266.4L283.1,1265.8L284.1,1265.2L285.1,1264.6L286.1,1264.0L287.1,1263.3L288.1,1262.5L289.1,1261.8L290.1,1261.0L291.1,1260.2L292.1,1259.3L293.1,1258.5L294.1,1257.6L295.1,1256.7L296.1,1255.7L297.1,1254.7L298.1,1253.6L299.1,1252.5L300.1,1251.4L301.1,1250.2L302.1,1249.0L303.1,1247.8L304.1,1246.5L305.1,1245.2L306.1,1243.8L307.1,1242.3L308.1,1240.8L309.1,1239.1L310.1,1237.4L311.1,1235.6L312.1,1233.8L313.1,1231.9L314.1,1230.1L315.1,1228.3L316.1,1226.5L317.1,1224.9L318.1,1223.3L319.1,1221.8L320.1,1220.3L321.1,1218.8L322.1,1217.4L323.1,1216.0L324.1,1214.5L325.1,1213.0L326.1,1211.4L327.1,1209.8L328.1,1208.2L329.1,1206.5L330.1,1204.7L331.1,1203.0L332.1,1201.2L333.1,1199.4L334.1,1197.6L335.1,1195.8L336.1,1194.0L337.1,1192.3L338.1,1190.4L339.1,1188.6L340.1,1186.7L341.1,1184.9L342.1,1183.0L343.1,1181.3L344.1,1179.6L345.1,1178.0L346.1,1176.5L347.1,1175.2L348.1,1174.0L349.1,1172.9L350.1,1171.8L351.1,1170.6L352.1,1169.2L353.1,1167.7L354.1,1166.1L355.1,1164.4L356.1,1162.7L357.1,1160.9L358.1,1159.0L359.1,1157.2L360.1,1155.3L361.1,1153.4L362.1,1151.6L363.1,1149.8L364.1,1148.1L365.1,1146.4L366.1,1144.6L367.1,1142.9L368.1,1141.2L369.1,1139.4L370.1,1137.7L371.1,1136.0L372.1,1134.4L373.1,1132.7L374.1,1131.1L375.1,1129.4L376.1,1127.7L377.1,1126.1L378.1,1124.5L379.1,1123.0L380.1,1121.7L381.1,1120.4L382.1,1119.2L383.1,1118.1L384.1,1117.1L385.1,1116.1L386.1,1115.2L387.1,1114.3L388.1,1113.5L389.1,1112.8L390.1,1112.2L391.1,1111.6L392.1,1111.0L393.1,1110.5L394.1,1109.9L395.1,1109.3L396.1,1108.6L397.1,1108.0L398.1,1107.5L399.1,1107.3L400.1,1107.2L401.1,1107.1L402.1,1107.1L403.1,1107.1L404.1,1107.1L405.1,1107.1L406.1,1107.1L407.1,1107.1L408.1,1107.1L409.1,1107.1L410.1,1107.1L411.1,1107.1L412.1,1107.1L413.1,1107.1L414.1,1107.1L415.1,1107.1L416.1,1107.1L417.1,1107.1L418.1,1107.1L419.1,1107.1L420.1,1107.2L421.1,1107.4L422.1,1108.0L423.1,1109.0L424.1,1110.1L425.1,1111.3L426.1,1112.6L427.1,1113.8L428.1,1114.7L429.1,1115.4L430.1,1115.8L431.1,1116.3L432.1,1116.7L433.1,1117.3L434.1,1118.1L435.1,1119.2L436.1,1120.8L437.1,1122.7L438.1,1124.8L439.1,1127.0L440.1,1129.2L441.1,1131.1L442.1,1132.8L443.1,1134.4L444.1,1135.8L445.1,1137.1L446.1,1138.3L447.1,1139.5L448.1,1140.7L449.1,1142.0L450.1,1143.1L451.1,1144.0L452.1,1144.9L453.1,1145.8L454.1,1146.8L455.1,1147.9L456.1,1149.3L457.1,1150.9L458.1,1152.8L459.1,1154.8L460.1,1157.0L461.1,1159.3L462.1,1162.0L463.1,1164.9L464.1,1168.2L465.1,1171.4L466.1,1173.9L467.1,1175.9L468.1,1177.4L469.1,1178.6L470.1,1179.7L471.1,1180.8L472.1,1182.1L473.1,1183.8L474.1,1185.7L475.1,1187.6L476.1,1189.6L477.1,1191.7L478.1,1193.7L479.1,1195.8L480.1,1197.8L481.1,1199.8L482.1,1201.8L483.1,1203.8L484.1,1205.8L485.1,1207.8L486.1,1209.8L487.1,1211.8L488.1,1213.8L489.1,1215.8L490.1,1217.8L491.1,1219.8L492.1,1221.8L493.1,1223.8L494.1,1225.8L495.1,1227.8L496.1,1229.8L497.1,1231.9L498.1,1233.9L499.1,1236.0L500.1,1238.0L501.1,1239.9L502.1,1241.8L503.1,1243.6L504.1,1245.4L505.1,1247.1L506.1,1248.8L507.1,1250.4L508.1,1252.0L509.1,1253.6L510.1,1255.1L511.1,1256.5L512.1,1257.9L513.1,1259.3L514.1,1260.6L515.1,1261.9L516.1,1263.1L517.1,1264.3L518.1,1265.4L519.1,1266.5L520.1,1267.5L521.1,1268.5L522.1,1269.5L523.1,1270.4L524.1,1271.3L525.1,1272.3L526.1,1273.2L527.1,1274.2L528.1,1275.3L529.1,1276.3L530.1,1277.4L531.1,1278.5L532.1,1279.5L533.1,1280.5L534.1,1281.5L535.1,1282.4L536.1,1283.3L537.1,1284.1L538.1,1284.8L539.1,1285.5L540.1,1286.2L541.1,1286.8L542.1,1287.4L543.1,1288.0L544.1,1288.5L545.1,1289.1L546.1,1289.6L547.1,1290.0L548.1,1290.5L549.1,1290.9L550.1,1291.3L551.1,1291.6L552.1,1292.0L553.1,1292.3L554.1,1292.7L555.1,1293.0L556.1,1293.3L557.1,1293.6L558.1,1293.9L559.1,1294.2L560.1,1294.4L561.1,1294.7L562.1,1294.9L563.1,1295.2L564.1,1295.4L565.1,1295.6L566.1,1295.8L567.1,1296.1L568.1,1296.3L569.1,1296.5L570.1,1296.8L571.1,1297.0L572.1,1297.3L573.1,1297.5L574.1,1297.8L575.1,1298.1L576.1,1298.3L577.1,1298.6L578.1,1298.9L579.1,1299.1L580.1,1299.4L581.1,1299.6L582.1,1299.9L583.1,1300.1L584.1,1300.3L585.1,1300.5L586.1,1300.7L587.1,1301.0L588.1,1301.2L589.1,1301.4L590.1,1301.6L591.1,1301.8L592.1,1302.1L593.1,1302.2L594.1,1302.4L595.1,1302.6L596.1,1302.7L597.1,1302.8L598.1,1302.9L599.1,1302.9L600.1,1302.9L601.1,1302.9L602.1,1302.9L603.1,1302.9L604.1,1302.9L605.1,1302.9L606.1,1302.9L607.1,1302.9L608.1,1302.9L609.1,1302.9L610.1,1302.9L611.1,1302.9L612.1,1302.9L613.1,1302.9L614.1,1302.9L615.1,1302.9L616.1,1303.0L617.1,1303.1L618.1,1303.2L619.1,1303.3L620.1,1303.4L621.1,1303.6L622.1,1303.8L623.1,1303.9L624.1,1304.1L625.1,1304.3L626.1,1304.5L627.1,1304.7L628.1,1304.9L629.1,1305.1L630.1,1305.2L631.1,1305.3L632.1,1305.5L633.1,1305.6L634.1,1305.7L635.1,1305.9L636.1,1306.0L637.1,1306.1L638.1,1306.3L639.1,1306.4L640.1,1306.5L641.1,1306.7L642.1,1306.8L643.1,1306.9L644.1,1307.0L645.1,1307.2L646.1,1307.3L647.1,1307.4L648.1,1307.4L649.1,1307.5L650.1,1307.6L651.1,1307.7L652.1,1307.7L653.1,1307.8L654.1,1307.8L655.1,1307.8L656.1,1307.8L657.1,1307.8L658.1,1307.7L659.1,1307.6L660.1,1307.5L661.1,1307.3L662.1,1307.2L663.1,1307.0L664.1,1306.8L665.1,1306.6L666.1,1306.4L667.1,1306.3L668.1,1306.1L669.1,1305.9L670.1,1305.8L671.1,1305.6L672.1,1305.5L673.1,1305.4L674.1,1305.4L675.1,1305.4L676.1,1305.4L677.1,1305.5L678.1,1305.6L679.1,1305.7L680.1,1305.8L681.1,1306.0L682.1,1306.2L683.1,1306.4L684.1,1306.6L685.1,1306.8L686.1,1307.0L687.1,1307.2L688.1,1307.4L689.1,1307.5L690.1,1307.6L691.1,1307.7L692.1,1307.8L693.1,1307.8L694.1,1307.9L695.1,1307.9L696.1,1308.0L697.1,1308.0L698.1,1308.0L699.1,1308.1L700.1,1308.1L701.1,1308.1L702.1,1308.2L703.1,1308.2L704.1,1308.2L705.1,1308.3L706.1,1308.3L707.1,1308.3L708.1,1308.3L709.1,1308.4L710.1,1308.4L711.1,1308.4L712.1,1308.4L713.1,1308.4L714.1,1308.5L715.1,1308.5L716.1,1308.5L717.1,1308.5L718.1,1308.5L719.1,1308.5L720.1,1308.6L721.1,1308.6L722.1,1308.6L723.1,1308.6L724.1,1308.6L725.1,1308.6L726.1,1308.6L727.1,1308.6L728.1,1308.7L729.1,1308.7L730.1,1308.7L731.1,1308.7L732.1,1308.7L733.1,1308.7L734.1,1308.7L735.1,1308.7L736.1,1308.7L737.1,1308.7L738.1,1308.7L739.1,1308.7L740.1,1308.7L741.1,1308.8L742.1,1308.8L743.1,1308.8L744.1,1308.8L745.1,1308.8L746.1,1308.8L747.1,1308.8L748.1,1308.8L749.1,1308.8L750.1,1308.8L751.1,1308.8L752.1,1308.8L753.1,1308.8L754.1,1308.8L755.1,1308.8L756.1,1308.8L757.1,1308.8L758.1,1308.8L759.1,1308.8L760.1,1308.9L761.1,1308.9L762.1,1308.9L763.1,1308.9L764.1,1308.9L765.1,1308.9L766.1,1308.9L767.1,1308.9L768.1,1308.9L769.1,1308.9L770.1,1308.9L771.1,1308.9L772.1,1309.0L773.1,1309.0L774.1,1309.0L775.1,1309.0L776.1,1309.0L777.1,1309.0L777.4,1309.0L777.4,1310.3 Z" fill="#6781c7" fill-opacity="0.50"/>
<line x1="412.8" y1="790.6" x2="412.8" y2="1310.3" stroke="#3b78c0" stroke-width="1.50" stroke-dasharray="8.2 5.4" stroke-dashoffset="2.6"/>
<line x1="414.3" y1="790.6" x2="414.3" y2="1310.3" stroke="#b8004f" stroke-width="1.50" stroke-dasharray="8.2 5.4" stroke-dashoffset="2.6"/>
<path d="M37.3,1310.3H778.4" stroke="#000" stroke-width="2.0" fill="none"/>
<path d="M38.3,1310.3v12.0M186.1,1310.3v12.0M333.9,1310.3v12.0M481.8,1310.3v12.0M629.6,1310.3v12.0M777.4,1310.3v12.0M112.2,1310.3v6.0M260.0,1310.3v6.0M407.8,1310.3v6.0M555.7,1310.3v6.0M703.5,1310.3v6.0" stroke="#000" stroke-width="2.0" fill="none"/>
<text transform="translate(-0.28,1363.80) scale(0.9263,1)" font-size="40.50" fill="#000">1310</text>
<text transform="translate(145.20,1363.80) scale(0.9349,1)" font-size="40.50" fill="#000">1308</text>
<text transform="translate(293.22,1363.80) scale(0.9267,1)" font-size="40.50" fill="#000">1306</text>
<text transform="translate(441.72,1363.80) scale(0.9271,1)" font-size="40.50" fill="#000">1304</text>
<text transform="translate(590.23,1363.80) scale(0.9235,1)" font-size="40.50" fill="#000">1302</text>
<text transform="translate(735.78,1363.80) scale(0.9064,1)" font-size="40.50" fill="#000">1300</text>
<text transform="translate(240.18,1405.60) scale(1.0202,1)" font-size="38.50" fill="#000">Binding energy (eV)</text>
<rect x="40.2" y="769.0" width="39.0" height="36.3" fill="#c6ced9"/>
<text transform="translate(46.26,801.60) scale(1.0864,1)" font-size="51.00" fill="#000">c</text>
<text transform="translate(641.66,818.80) scale(1.0274,1)" font-size="38.50" fill="#000">Mg 1s</text>
<text transform="translate(280.47,780.90) scale(1.0276,1)" font-size="32.50" fill="#3b78c0">Mg<tspan font-size="19.82" dy="-10.89">2+</tspan><tspan dy="10.89">(S</tspan><tspan font-size="19.82" dy="-10.89">2-</tspan><tspan dy="10.89">)</tspan></text>
<text transform="translate(418.33,780.90) scale(1.0074,1)" font-size="32.50" fill="#b8004f" stroke="#b8004f" stroke-width="0.20">Mg<tspan font-size="19.82" dy="-10.89">2+</tspan><tspan dy="10.89"> (S</tspan><tspan font-size="19.82" dy="-10.89">2-</tspan><tspan dy="10.89">)</tspan></text>
<path d="M872.4,1313.0L872.4,1285.2L873.9,1286.7L875.4,1288.2L876.9,1288.8L878.4,1288.3L879.9,1287.0L881.4,1285.1L882.9,1282.9L884.4,1280.4L885.9,1277.6L887.4,1274.2L888.9,1270.7L890.4,1267.3L891.9,1264.0L893.4,1260.7L894.9,1257.4L896.4,1254.2L897.9,1251.6L899.4,1249.7L900.9,1248.1L902.4,1247.5L903.9,1247.8L905.4,1248.8L906.9,1250.3L908.4,1252.7L909.9,1256.3L911.4,1260.3L912.9,1263.5L914.4,1265.0L915.9,1264.4L917.4,1263.0L918.9,1261.5L920.4,1260.7L921.9,1262.0L923.4,1263.0L924.9,1258.2L926.4,1249.4L927.9,1238.1L929.4,1223.8L930.9,1206.5L932.4,1186.1L933.9,1163.6L935.4,1145.5L936.9,1122.5L938.4,1069.5L939.9,1025.6L941.4,1000.5L942.9,970.4L944.4,940.4L945.9,910.5L947.4,879.1L948.9,851.8L950.4,833.5L951.9,824.6L953.4,826.1L954.9,834.0L956.4,847.7L957.9,867.9L959.4,894.2L960.9,918.1L962.4,940.2L963.9,966.9L965.4,997.6L966.9,1027.8L968.4,1057.4L969.9,1086.2L971.4,1108.8L972.9,1133.9L974.4,1161.5L975.9,1187.5L977.4,1210.9L978.9,1231.3L980.4,1246.2L981.9,1257.1L983.4,1266.3L984.9,1273.7L986.4,1279.3L987.9,1282.5L989.4,1283.8L990.9,1284.9L992.4,1286.4L993.9,1287.8L995.4,1289.1L996.9,1290.2L998.4,1291.2L999.9,1291.9L1001.4,1292.5L1002.9,1292.8L1004.4,1293.1L1005.9,1293.3L1007.4,1293.5L1008.9,1293.8L1010.4,1294.2L1011.9,1294.5L1013.4,1294.8L1014.9,1295.1L1016.4,1295.4L1017.9,1295.7L1019.4,1296.0L1020.9,1296.2L1022.4,1296.4L1023.9,1296.6L1025.4,1296.8L1026.9,1296.9L1028.4,1297.0L1029.9,1297.2L1031.4,1297.2L1032.9,1297.3L1034.4,1297.3L1035.9,1297.3L1037.4,1297.3L1038.9,1297.3L1040.4,1297.3L1041.9,1297.3L1043.4,1297.3L1044.9,1297.3L1046.4,1297.3L1047.9,1297.3L1049.4,1297.3L1050.9,1297.3L1052.4,1297.3L1053.9,1297.3L1055.4,1297.2L1056.9,1297.2L1058.4,1297.1L1059.9,1297.0L1061.4,1297.0L1062.9,1296.9L1064.4,1296.8L1065.9,1296.7L1067.4,1296.7L1068.9,1296.6L1070.4,1296.6L1071.9,1296.5L1073.4,1296.5L1074.9,1296.5L1076.4,1296.4L1077.9,1296.4L1079.4,1296.3L1080.9,1296.3L1082.4,1296.3L1083.9,1296.2L1085.4,1296.2L1086.9,1296.1L1088.4,1296.1L1089.9,1296.0L1091.4,1296.0L1092.9,1295.9L1094.4,1295.8L1095.9,1295.8L1097.4,1295.7L1098.9,1295.6L1100.4,1295.6L1101.9,1295.5L1103.4,1295.4L1104.9,1295.3L1106.4,1295.2L1107.9,1295.1L1109.4,1295.0L1110.9,1294.9L1112.4,1294.7L1113.9,1294.6L1115.4,1294.5L1116.9,1294.4L1118.4,1294.3L1119.9,1294.1L1121.4,1293.8L1122.9,1293.4L1124.4,1292.8L1125.9,1292.0L1127.4,1291.2L1128.9,1290.4L1130.4,1289.6L1131.9,1288.7L1133.4,1287.7L1134.9,1286.8L1136.4,1286.3L1137.9,1286.2L1139.4,1286.4L1140.9,1286.8L1142.4,1287.1L1143.9,1287.3L1145.4,1287.3L1146.9,1286.8L1148.4,1286.1L1149.9,1285.4L1151.4,1285.0L1152.9,1285.1L1154.4,1286.0L1155.9,1287.2L1157.4,1288.6L1158.9,1289.7L1160.4,1290.4L1161.9,1291.1L1163.4,1291.7L1164.9,1292.1L1166.4,1292.2L1167.9,1292.2L1169.4,1292.1L1170.9,1292.0L1172.4,1291.9L1173.9,1291.8L1175.4,1291.8L1176.9,1291.8L1178.4,1291.8L1179.9,1292.0L1181.4,1292.1L1182.9,1292.3L1184.4,1292.6L1185.9,1292.8L1187.4,1293.0L1188.9,1293.2L1190.4,1293.4L1191.9,1293.6L1193.4,1293.7L1194.9,1293.9L1196.4,1294.1L1197.9,1294.2L1199.4,1294.4L1200.9,1294.5L1202.4,1294.6L1203.9,1294.7L1205.4,1294.7L1206.9,1294.6L1208.4,1294.6L1209.9,1294.4L1211.4,1294.2L1212.9,1294.1L1214.4,1293.9L1215.9,1293.7L1217.4,1293.6L1218.9,1293.5L1220.4,1293.5L1221.9,1293.5L1223.4,1293.7L1224.9,1294.0L1226.4,1294.2L1227.9,1294.5L1229.4,1294.8L1230.9,1295.1L1232.4,1295.3L1233.9,1295.4L1235.4,1295.4L1236.9,1295.4L1238.4,1295.3L1239.9,1295.2L1241.4,1295.1L1242.9,1295.0L1244.4,1294.9L1245.9,1294.7L1247.4,1294.6L1248.9,1294.5L1250.4,1294.4L1251.9,1294.3L1253.4,1294.3L1254.9,1294.3L1256.4,1294.2L1257.9,1294.2L1259.4,1294.2L1260.9,1294.1L1262.4,1294.0L1263.9,1293.9L1265.4,1293.7L1266.9,1293.5L1268.4,1293.2L1269.9,1292.4L1271.4,1291.2L1272.9,1289.6L1274.4,1287.7L1275.9,1285.5L1277.4,1283.0L1278.9,1280.2L1280.4,1276.8L1281.9,1272.9L1283.4,1268.5L1284.9,1263.7L1286.4,1258.4L1287.9,1252.3L1289.4,1245.3L1290.9,1237.2L1292.4,1228.2L1293.9,1218.7L1295.4,1209.1L1296.9,1199.0L1298.4,1188.4L1299.9,1178.0L1301.4,1168.3L1302.9,1159.1L1304.4,1150.4L1305.9,1142.9L1307.4,1137.4L1308.9,1133.4L1310.4,1130.8L1311.9,1129.7L1313.4,1129.7L1314.9,1130.0L1316.4,1131.0L1317.9,1133.0L1319.4,1136.1L1320.9,1140.4L1322.4,1145.4L1323.9,1150.6L1325.4,1156.2L1326.9,1162.3L1328.4,1168.6L1329.9,1175.0L1331.4,1181.6L1332.9,1188.4L1334.4,1195.1L1335.9,1201.3L1337.4,1207.1L1338.9,1212.5L1340.4,1217.9L1341.9,1223.2L1343.4,1228.6L1344.9,1234.2L1346.4,1239.8L1347.9,1245.3L1349.4,1250.7L1350.9,1256.0L1352.4,1261.4L1353.9,1266.7L1355.4,1271.7L1356.9,1276.2L1358.4,1280.1L1359.9,1283.6L1361.4,1286.7L1362.9,1289.4L1364.4,1291.8L1365.9,1293.7L1367.4,1295.2L1368.9,1296.3L1370.4,1297.1L1371.9,1297.6L1373.4,1298.1L1374.9,1298.4L1376.4,1298.8L1377.9,1299.0L1379.4,1299.2L1380.9,1299.3L1382.4,1299.4L1383.9,1299.5L1385.4,1299.5L1386.9,1299.5L1388.4,1299.5L1389.9,1299.5L1391.4,1299.4L1392.9,1299.1L1394.4,1298.8L1395.9,1298.4L1397.4,1298.0L1398.9,1297.7L1400.4,1297.3L1401.9,1297.0L1403.4,1296.6L1404.9,1296.2L1406.4,1295.8L1407.9,1295.5L1409.4,1295.1L1410.9,1294.9L1412.4,1294.7L1413.9,1294.7L1415.4,1294.7L1416.9,1294.7L1418.4,1294.7L1419.9,1294.7L1421.4,1294.8L1422.9,1294.8L1424.4,1294.9L1425.9,1295.0L1427.4,1295.1L1428.9,1295.3L1430.4,1295.5L1431.9,1295.8L1433.4,1296.1L1434.9,1296.5L1436.4,1296.9L1437.9,1297.3L1439.4,1297.6L1440.9,1298.0L1442.4,1298.3L1443.9,1298.6L1445.4,1298.8L1446.9,1299.1L1448.4,1299.4L1449.9,1299.6L1451.4,1299.8L1452.9,1300.1L1454.4,1300.2L1455.9,1300.4L1457.4,1300.6L1458.9,1300.7L1460.4,1300.7L1461.9,1300.8L1463.4,1300.7L1464.9,1300.7L1466.4,1300.5L1467.9,1300.3L1469.4,1300.1L1470.9,1299.8L1472.4,1299.5L1473.9,1299.1L1475.4,1298.7L1476.9,1298.3L1478.4,1297.8L1479.9,1297.4L1481.4,1296.9L1482.9,1296.4L1484.4,1295.7L1485.9,1295.0L1487.4,1294.2L1488.9,1293.4L1490.4,1292.6L1491.9,1291.7L1493.4,1290.5L1494.9,1289.0L1496.4,1287.1L1497.9,1284.9L1499.4,1282.4L1500.9,1279.6L1502.4,1276.4L1503.9,1272.6L1505.4,1268.3L1506.9,1263.4L1508.4,1258.0L1509.9,1252.1L1511.4,1245.9L1512.9,1239.2L1514.4,1232.0L1515.9,1224.5L1517.4,1216.4L1518.9,1207.7L1520.4,1198.5L1521.9,1189.3L1523.4,1180.1L1524.9,1170.7L1526.4,1161.3L1527.9,1152.3L1529.4,1144.5L1530.9,1137.2L1532.4,1131.3L1533.9,1127.6L1535.4,1125.8L1536.9,1125.6L1538.4,1127.0L1539.9,1130.0L1541.4,1134.8L1542.9,1141.2L1544.4,1148.5L1545.9,1156.5L1547.4,1165.6L1548.9,1175.0L1550.4,1184.1L1551.9,1193.2L1553.4,1202.3L1554.9,1211.3L1556.4,1220.0L1557.9,1228.9L1559.4,1237.6L1560.9,1245.7L1562.4,1253.0L1563.9,1259.5L1565.4,1265.3L1566.9,1270.5L1568.4,1275.2L1569.9,1279.5L1571.4,1283.3L1572.9,1286.5L1574.4,1289.3L1575.9,1291.5L1577.4,1293.1L1578.9,1294.1L1580.4,1294.6L1581.9,1294.7L1583.4,1294.3L1584.9,1293.8L1586.4,1293.1L1587.9,1292.5L1589.4,1292.1L1590.9,1291.7L1592.4,1291.3L1593.9,1291.0L1595.4,1290.8L1596.9,1290.5L1598.4,1290.4L1599.9,1290.3L1601.4,1290.3L1602.9,1290.5L1604.4,1290.7L1605.9,1291.1L1607.4,1291.6L1608.9,1292.1L1610.4,1292.7L1611.9,1293.1L1613.0,1293.5L1613.0,1313.0 Z" fill="#7f954b" fill-opacity="0.50"/>
<path d="M872.4,1313.0L872.4,1286.2L873.9,1287.7L875.4,1289.2L876.9,1289.8L878.4,1289.3L879.9,1288.1L881.4,1286.3L882.9,1284.2L884.4,1282.1L885.9,1279.5L887.4,1276.5L888.9,1273.4L890.4,1270.4L891.9,1267.7L893.4,1265.1L894.9,1262.6L896.4,1260.2L897.9,1258.2L899.4,1256.5L900.9,1254.9L902.4,1254.3L903.9,1254.3L905.4,1254.5L906.9,1255.2L908.4,1256.8L909.9,1259.7L911.4,1262.9L912.9,1265.6L914.4,1266.8L915.9,1266.2L917.4,1264.5L918.9,1262.8L920.4,1261.8L921.9,1263.1L923.4,1264.0L924.9,1259.3L926.4,1250.4L927.9,1239.1L929.4,1224.8L930.9,1207.5L932.4,1187.1L933.9,1164.6L935.4,1146.5L936.9,1123.5L938.4,1070.5L939.9,1026.6L941.4,1001.5L942.9,971.4L944.4,941.4L945.9,911.5L947.4,880.1L948.9,852.8L950.4,834.5L951.9,825.6L953.4,827.1L954.9,835.0L956.4,848.7L957.9,868.9L959.4,895.2L960.9,919.1L962.4,941.2L963.9,967.9L965.4,998.6L966.9,1028.8L968.4,1058.4L969.9,1087.2L971.4,1109.8L972.9,1134.9L974.4,1162.5L975.9,1188.5L977.4,1211.9L978.9,1232.3L980.4,1247.2L981.9,1258.1L983.4,1267.3L984.9,1274.7L986.4,1280.3L987.9,1283.5L989.4,1284.8L990.9,1285.9L992.4,1287.4L993.9,1288.8L995.4,1290.1L996.9,1291.2L998.4,1292.2L999.9,1292.9L1001.4,1293.5L1002.9,1293.8L1004.4,1294.1L1005.9,1294.3L1007.4,1294.5L1008.9,1294.8L1010.4,1295.2L1011.9,1295.5L1013.4,1295.8L1014.9,1296.1L1016.4,1296.4L1017.9,1296.7L1019.4,1297.0L1020.9,1297.2L1022.4,1297.4L1023.9,1297.6L1025.4,1297.8L1026.9,1297.9L1028.4,1298.0L1029.9,1298.2L1031.4,1298.2L1032.9,1298.3L1034.4,1298.3L1035.9,1298.3L1037.4,1298.3L1038.9,1298.3L1040.4,1298.3L1041.9,1298.3L1043.4,1298.3L1044.9,1298.3L1046.4,1298.3L1047.9,1298.3L1049.4,1298.3L1050.9,1298.2L1052.4,1297.5L1053.9,1296.3L1055.4,1294.6L1056.9,1292.3L1058.4,1289.7L1059.9,1286.6L1061.4,1282.8L1062.9,1278.1L1064.4,1272.3L1065.9,1265.7L1067.4,1258.1L1068.9,1249.7L1070.4,1240.2L1071.9,1229.7L1073.4,1218.7L1074.9,1207.2L1076.4,1195.0L1077.9,1182.7L1079.4,1171.2L1080.9,1159.9L1082.4,1149.3L1083.9,1140.3L1085.4,1132.5L1086.9,1126.6L1088.4,1123.9L1089.9,1123.1L1091.4,1123.1L1092.9,1123.6L1094.4,1126.0L1095.9,1131.1L1097.4,1138.4L1098.9,1147.3L1100.4,1157.9L1101.9,1169.8L1103.4,1183.4L1104.9,1197.8L1106.4,1211.5L1107.9,1224.7L1109.4,1237.2L1110.9,1249.0L1112.4,1259.7L1113.9,1268.6L1115.4,1275.8L1116.9,1281.8L1118.4,1286.9L1119.9,1290.8L1121.4,1293.8L1122.9,1296.2L1124.4,1297.9L1125.9,1298.9L1127.4,1299.4L1128.9,1299.5L1130.4,1299.5L1131.9,1299.5L1133.4,1299.6L1134.9,1299.6L1136.4,1299.5L1137.9,1299.5L1139.4,1299.5L1140.9,1299.5L1142.4,1299.5L1143.9,1299.5L1145.4,1299.5L1146.9,1299.5L1148.4,1299.5L1149.9,1299.5L1151.4,1299.5L1152.9,1299.4L1154.4,1299.4L1155.9,1299.3L1157.4,1299.2L1158.9,1299.2L1160.4,1299.0L1161.9,1298.9L1163.4,1298.7L1164.9,1298.6L1166.4,1298.3L1167.9,1298.1L1169.4,1297.7L1170.9,1297.2L1172.4,1296.6L1173.9,1296.1L1175.4,1295.6L1176.9,1295.1L1178.4,1294.7L1179.9,1294.4L1181.4,1294.2L1182.9,1294.0L1184.4,1293.8L1185.9,1293.7L1187.4,1293.6L1188.9,1293.5L1190.4,1293.5L1191.9,1293.5L1193.4,1293.7L1194.9,1294.1L1196.4,1294.6L1197.9,1295.2L1199.4,1295.8L1200.9,1296.4L1202.4,1296.9L1203.9,1297.4L1205.4,1297.9L1206.9,1298.5L1208.4,1299.1L1209.9,1299.7L1211.4,1300.2L1212.9,1300.5L1214.4,1300.7L1215.9,1300.8L1217.4,1300.8L1218.9,1300.8L1220.4,1300.8L1221.9,1300.8L1223.4,1300.8L1224.9,1300.8L1226.4,1300.8L1227.9,1300.8L1229.4,1300.8L1230.9,1300.8L1232.4,1300.8L1233.9,1300.8L1235.4,1300.8L1236.9,1300.8L1238.4,1300.8L1239.9,1300.8L1241.4,1300.8L1242.9,1300.8L1244.4,1300.8L1245.9,1300.8L1247.4,1300.8L1248.9,1300.8L1250.4,1300.8L1251.9,1300.8L1253.4,1300.8L1254.9,1300.8L1256.4,1300.8L1257.9,1300.8L1259.4,1300.8L1260.9,1300.8L1262.4,1300.8L1263.9,1300.8L1265.4,1300.8L1266.9,1300.8L1268.4,1300.8L1269.9,1300.8L1271.4,1300.8L1272.9,1300.8L1274.4,1300.8L1275.9,1300.8L1277.4,1300.8L1278.9,1300.5L1280.4,1300.1L1281.9,1299.4L1283.4,1298.7L1284.9,1298.0L1286.4,1297.3L1287.9,1296.7L1289.4,1296.1L1290.9,1295.5L1292.4,1294.9L1293.9,1294.3L1295.4,1293.7L1296.9,1293.1L1298.4,1292.5L1299.9,1291.8L1301.4,1291.0L1302.9,1290.2L1304.4,1289.3L1305.9,1288.4L1307.4,1287.6L1308.9,1286.9L1310.4,1286.4L1311.9,1286.2L1313.4,1286.2L1314.9,1286.5L1316.4,1286.9L1317.9,1287.4L1319.4,1288.0L1320.9,1288.6L1322.4,1289.2L1323.9,1290.0L1325.4,1290.9L1326.9,1291.8L1328.4,1292.5L1329.9,1293.2L1331.4,1293.7L1332.9,1293.9L1334.4,1294.1L1335.9,1294.2L1337.4,1294.2L1338.9,1294.4L1340.4,1294.7L1341.9,1295.1L1343.4,1295.6L1344.9,1296.2L1346.4,1296.8L1347.9,1297.4L1349.4,1298.1L1350.9,1298.6L1352.4,1299.3L1353.9,1300.1L1355.4,1300.8L1356.9,1301.4L1358.4,1301.8L1359.9,1302.0L1361.4,1302.0L1362.9,1302.1L1364.4,1302.1L1365.9,1302.1L1367.4,1302.1L1368.9,1302.2L1370.4,1302.2L1371.9,1302.2L1373.4,1302.2L1374.9,1302.3L1376.4,1302.3L1377.9,1302.3L1379.4,1302.3L1380.9,1302.3L1382.4,1302.3L1383.9,1302.3L1385.4,1302.3L1386.9,1302.3L1388.4,1302.3L1389.9,1302.3L1391.4,1302.3L1392.9,1302.3L1394.4,1302.4L1395.9,1302.4L1397.4,1302.4L1398.9,1302.4L1400.4,1302.4L1401.9,1302.4L1403.4,1302.4L1404.9,1302.4L1406.4,1302.4L1407.9,1302.4L1409.4,1302.4L1410.9,1302.4L1412.4,1302.5L1413.9,1302.5L1415.4,1302.5L1416.9,1302.5L1418.4,1302.5L1419.9,1302.6L1421.4,1302.6L1422.9,1302.6L1424.4,1302.6L1425.9,1302.7L1427.4,1302.7L1428.9,1302.7L1430.4,1302.8L1431.9,1302.8L1433.4,1302.8L1434.9,1302.9L1436.4,1302.9L1437.9,1302.9L1439.4,1302.9L1440.9,1303.0L1442.4,1303.0L1443.9,1303.0L1445.4,1303.0L1446.9,1303.1L1448.4,1303.1L1449.9,1303.1L1451.4,1303.1L1452.9,1303.1L1454.4,1303.2L1455.9,1303.2L1457.4,1303.2L1458.9,1303.2L1460.4,1303.2L1461.9,1303.2L1463.4,1303.2L1464.9,1303.1L1466.4,1303.0L1467.9,1302.9L1469.4,1302.8L1470.9,1302.6L1472.4,1302.4L1473.9,1302.1L1475.4,1301.9L1476.9,1301.6L1478.4,1301.3L1479.9,1301.0L1481.4,1300.7L1482.9,1300.4L1484.4,1300.0L1485.9,1299.7L1487.4,1299.4L1488.9,1299.2L1490.4,1298.8L1491.9,1298.0L1493.4,1296.7L1494.9,1295.2L1496.4,1293.3L1497.9,1291.0L1499.4,1288.4L1500.9,1285.5L1502.4,1282.2L1503.9,1278.5L1505.4,1274.3L1506.9,1269.8L1508.4,1264.7L1509.9,1259.3L1511.4,1253.4L1512.9,1247.1L1514.4,1240.3L1515.9,1233.1L1517.4,1225.4L1518.9,1217.2L1520.4,1208.2L1521.9,1198.8L1523.4,1189.7L1524.9,1181.1L1526.4,1172.5L1527.9,1164.2L1529.4,1157.0L1530.9,1151.3L1532.4,1146.8L1533.9,1143.5L1535.4,1141.7L1536.9,1141.4L1538.4,1142.7L1539.9,1145.3L1541.4,1149.1L1542.9,1154.3L1544.4,1160.9L1545.9,1168.2L1547.4,1175.8L1548.9,1183.6L1550.4,1192.0L1551.9,1200.7L1553.4,1209.4L1554.9,1218.5L1556.4,1227.8L1557.9,1237.0L1559.4,1245.5L1560.9,1253.2L1562.4,1260.3L1563.9,1266.9L1565.4,1272.8L1566.9,1278.0L1568.4,1282.4L1569.9,1286.0L1571.4,1289.1L1572.9,1291.7L1574.4,1293.9L1575.9,1295.7L1577.4,1296.9L1578.9,1297.8L1580.4,1298.2L1581.9,1298.3L1583.4,1297.7L1584.9,1296.8L1586.4,1295.7L1587.9,1294.9L1589.4,1294.6L1590.9,1294.4L1592.4,1294.2L1593.9,1294.1L1595.4,1294.0L1596.9,1293.9L1598.4,1293.8L1599.9,1293.8L1601.4,1293.8L1602.9,1293.7L1604.4,1293.7L1605.9,1293.7L1607.4,1293.6L1608.9,1293.6L1610.4,1293.6L1611.9,1293.5L1613.0,1293.5L1613.0,1313.0 Z" fill="#bd4161" fill-opacity="0.50"/>
<path d="M872.4,1313.0L872.4,1286.2L873.9,1287.7L875.4,1289.2L876.9,1289.8L878.4,1289.3L879.9,1288.1L881.4,1286.4L882.9,1284.3L884.4,1282.2L885.9,1279.7L887.4,1276.9L888.9,1273.9L890.4,1271.0L891.9,1268.2L893.4,1265.4L894.9,1262.6L896.4,1259.9L897.9,1257.5L899.4,1255.5L900.9,1253.5L902.4,1252.6L903.9,1252.7L905.4,1253.1L906.9,1253.9L908.4,1255.8L909.9,1259.0L911.4,1262.5L912.9,1265.4L914.4,1266.7L915.9,1266.1L917.4,1264.4L918.9,1262.7L920.4,1261.8L921.9,1263.1L923.4,1264.0L924.9,1259.3L926.4,1250.4L927.9,1239.1L929.4,1224.8L930.9,1207.5L932.4,1187.1L933.9,1164.6L935.4,1146.5L936.9,1123.5L938.4,1070.5L939.9,1026.6L941.4,1001.5L942.9,971.4L944.4,941.4L945.9,911.5L947.4,880.1L948.9,852.8L950.4,834.5L951.9,825.6L953.4,827.1L954.9,835.0L956.4,848.7L957.9,868.9L959.4,895.2L960.9,919.1L962.4,941.2L963.9,967.9L965.4,998.6L966.9,1028.8L968.4,1058.4L969.9,1087.2L971.4,1109.8L972.9,1134.9L974.4,1162.5L975.9,1188.5L977.4,1211.9L978.9,1232.3L980.4,1247.2L981.9,1258.1L983.4,1267.3L984.9,1274.7L986.4,1280.3L987.9,1283.5L989.4,1284.8L990.9,1285.9L992.4,1287.4L993.9,1288.8L995.4,1290.1L996.9,1291.2L998.4,1292.2L999.9,1292.9L1001.4,1293.5L1002.9,1293.8L1004.4,1294.1L1005.9,1294.3L1007.4,1294.5L1008.9,1294.8L1010.4,1295.2L1011.9,1295.5L1013.4,1295.8L1014.9,1296.1L1016.4,1296.4L1017.9,1296.7L1019.4,1297.0L1020.9,1297.2L1022.4,1297.4L1023.9,1297.6L1025.4,1297.8L1026.9,1297.9L1028.4,1298.0L1029.9,1298.2L1031.4,1298.2L1032.9,1298.3L1034.4,1298.3L1035.9,1298.3L1037.4,1298.3L1038.9,1298.3L1040.4,1298.3L1041.9,1298.3L1043.4,1298.3L1044.9,1298.3L1046.4,1298.3L1047.9,1298.3L1049.4,1298.3L1050.9,1298.3L1052.4,1298.3L1053.9,1298.1L1055.4,1297.8L1056.9,1297.3L1058.4,1296.5L1059.9,1295.5L1061.4,1294.3L1062.9,1292.9L1064.4,1291.1L1065.9,1288.8L1067.4,1285.9L1068.9,1282.3L1070.4,1278.4L1071.9,1274.2L1073.4,1269.8L1074.9,1265.2L1076.4,1260.7L1077.9,1256.0L1079.4,1251.3L1080.9,1247.0L1082.4,1243.4L1083.9,1240.3L1085.4,1237.8L1086.9,1235.6L1088.4,1233.8L1089.9,1232.4L1091.4,1231.5L1092.9,1231.5L1094.4,1232.2L1095.9,1234.0L1097.4,1236.9L1098.9,1241.6L1100.4,1247.3L1101.9,1253.0L1103.4,1258.3L1104.9,1263.7L1106.4,1268.8L1107.9,1273.8L1109.4,1278.5L1110.9,1282.9L1112.4,1286.5L1113.9,1289.4L1115.4,1291.9L1116.9,1293.8L1118.4,1295.2L1119.9,1296.0L1121.4,1296.6L1122.9,1297.2L1124.4,1297.8L1125.9,1298.3L1127.4,1298.6L1128.9,1298.9L1130.4,1299.1L1131.9,1299.3L1133.4,1299.4L1134.9,1299.4L1136.4,1299.5L1137.9,1299.5L1139.4,1299.5L1140.9,1299.5L1142.4,1299.5L1143.9,1299.5L1145.4,1299.5L1146.9,1299.5L1148.4,1299.5L1149.9,1299.5L1151.4,1299.5L1152.9,1299.4L1154.4,1299.4L1155.9,1299.3L1157.4,1299.2L1158.9,1299.2L1160.4,1299.0L1161.9,1298.9L1163.4,1298.7L1164.9,1298.6L1166.4,1298.3L1167.9,1298.1L1169.4,1297.7L1170.9,1297.2L1172.4,1296.6L1173.9,1296.1L1175.4,1295.6L1176.9,1295.1L1178.4,1294.7L1179.9,1294.4L1181.4,1294.2L1182.9,1294.0L1184.4,1293.8L1185.9,1293.7L1187.4,1293.6L1188.9,1293.5L1190.4,1293.5L1191.9,1293.5L1193.4,1293.7L1194.9,1294.1L1196.4,1294.6L1197.9,1295.2L1199.4,1295.8L1200.9,1296.4L1202.4,1296.9L1203.9,1297.4L1205.4,1297.9L1206.9,1298.5L1208.4,1299.1L1209.9,1299.7L1211.4,1300.2L1212.9,1300.5L1214.4,1300.7L1215.9,1300.8L1217.4,1300.8L1218.9,1300.8L1220.4,1300.8L1221.9,1300.8L1223.4,1300.8L1224.9,1300.8L1226.4,1300.8L1227.9,1300.8L1229.4,1300.8L1230.9,1300.8L1232.4,1300.8L1233.9,1300.8L1235.4,1300.8L1236.9,1300.8L1238.4,1300.8L1239.9,1300.8L1241.4,1300.8L1242.9,1300.8L1244.4,1300.8L1245.9,1300.8L1247.4,1300.8L1248.9,1300.8L1250.4,1300.8L1251.9,1300.8L1253.4,1300.8L1254.9,1300.8L1256.4,1300.8L1257.9,1300.8L1259.4,1300.8L1260.9,1300.8L1262.4,1300.8L1263.9,1300.8L1265.4,1300.8L1266.9,1300.8L1268.4,1300.8L1269.9,1300.8L1271.4,1300.8L1272.9,1300.8L1274.4,1300.8L1275.9,1300.8L1277.4,1300.7L1278.9,1300.4L1280.4,1299.7L1281.9,1298.7L1283.4,1297.5L1284.9,1296.2L1286.4,1295.0L1287.9,1293.9L1289.4,1292.7L1290.9,1291.5L1292.4,1290.2L1293.9,1288.8L1295.4,1287.2L1296.9,1285.3L1298.4,1283.3L1299.9,1281.5L1301.4,1280.1L1302.9,1279.2L1304.4,1278.7L1305.9,1278.4L1307.4,1278.1L1308.9,1277.6L1310.4,1276.7L1311.9,1275.7L1313.4,1274.8L1314.9,1274.2L1316.4,1274.0L1317.9,1274.3L1319.4,1275.0L1320.9,1276.0L1322.4,1277.0L1323.9,1278.1L1325.4,1279.5L1326.9,1281.1L1328.4,1282.2L1329.9,1282.5L1331.4,1282.1L1332.9,1281.5L1334.4,1281.3L1335.9,1282.4L1337.4,1284.8L1338.9,1287.6L1340.4,1289.8L1341.9,1291.2L1343.4,1292.3L1344.9,1293.2L1346.4,1294.0L1347.9,1294.8L1349.4,1295.8L1350.9,1296.8L1352.4,1297.6L1353.9,1298.2L1355.4,1298.3L1356.9,1297.9L1358.4,1297.4L1359.9,1297.1L1361.4,1298.3L1362.9,1300.4L1364.4,1301.9L1365.9,1302.0L1367.4,1302.1L1368.9,1302.1L1370.4,1302.1L1371.9,1302.2L1373.4,1302.2L1374.9,1302.2L1376.4,1302.2L1377.9,1302.2L1379.4,1302.3L1380.9,1302.3L1382.4,1302.3L1383.9,1302.3L1385.4,1302.3L1386.9,1302.3L1388.4,1302.3L1389.9,1302.3L1391.4,1302.3L1392.9,1302.3L1394.4,1302.4L1395.9,1302.4L1397.4,1302.4L1398.9,1302.4L1400.4,1302.4L1401.9,1302.4L1403.4,1302.4L1404.9,1302.4L1406.4,1302.4L1407.9,1302.4L1409.4,1302.4L1410.9,1302.4L1412.4,1302.5L1413.9,1302.5L1415.4,1302.5L1416.9,1302.5L1418.4,1302.5L1419.9,1302.6L1421.4,1302.6L1422.9,1302.6L1424.4,1302.6L1425.9,1302.7L1427.4,1302.7L1428.9,1302.7L1430.4,1302.8L1431.9,1302.8L1433.4,1302.8L1434.9,1302.9L1436.4,1302.9L1437.9,1302.9L1439.4,1302.9L1440.9,1303.0L1442.4,1303.0L1443.9,1303.0L1445.4,1303.0L1446.9,1303.1L1448.4,1303.1L1449.9,1303.1L1451.4,1303.1L1452.9,1303.1L1454.4,1303.2L1455.9,1303.2L1457.4,1303.2L1458.9,1303.2L1460.4,1303.2L1461.9,1303.2L1463.4,1303.2L1464.9,1303.1L1466.4,1303.0L1467.9,1302.9L1469.4,1302.8L1470.9,1302.6L1472.4,1302.4L1473.9,1302.1L1475.4,1301.9L1476.9,1301.6L1478.4,1301.3L1479.9,1301.0L1481.4,1300.7L1482.9,1300.4L1484.4,1300.0L1485.9,1299.7L1487.4,1299.4L1488.9,1299.1L1490.4,1298.7L1491.9,1298.0L1493.4,1297.0L1494.9,1295.8L1496.4,1294.2L1497.9,1292.2L1499.4,1289.7L1500.9,1286.8L1502.4,1283.5L1503.9,1279.7L1505.4,1275.6L1506.9,1270.9L1508.4,1265.9L1509.9,1260.4L1511.4,1254.6L1512.9,1248.4L1514.4,1241.7L1515.9,1234.8L1517.4,1227.5L1518.9,1220.0L1520.4,1211.8L1521.9,1203.5L1523.4,1195.9L1524.9,1189.7L1526.4,1184.7L1527.9,1180.7L1529.4,1177.3L1530.9,1174.2L1532.4,1171.1L1533.9,1168.3L1535.4,1165.8L1536.9,1163.9L1538.4,1162.5L1539.9,1162.0L1541.4,1163.8L1542.9,1168.2L1544.4,1172.6L1545.9,1177.5L1547.4,1183.0L1548.9,1188.9L1550.4,1195.2L1551.9,1202.1L1553.4,1209.4L1554.9,1216.9L1556.4,1224.5L1557.9,1232.5L1559.4,1240.6L1560.9,1248.4L1562.4,1255.4L1563.9,1261.7L1565.4,1267.5L1566.9,1272.8L1568.4,1277.6L1569.9,1282.0L1571.4,1286.0L1572.9,1289.5L1574.4,1292.4L1575.9,1294.2L1577.4,1295.1L1578.9,1295.5L1580.4,1295.8L1581.9,1295.9L1583.4,1295.9L1584.9,1295.8L1586.4,1295.5L1587.9,1295.0L1589.4,1294.4L1590.9,1293.9L1592.4,1293.6L1593.9,1293.5L1595.4,1293.5L1596.9,1293.5L1598.4,1293.6L1599.9,1293.7L1601.4,1293.8L1602.9,1293.9L1604.4,1294.0L1605.9,1294.1L1607.4,1294.3L1608.9,1294.4L1610.4,1294.5L1611.9,1294.6L1613.0,1294.7L1613.0,1313.0 Z" fill="#6781c7" fill-opacity="0.50"/>
<path d="M871.4,1313.0H1613.6" stroke="#000" stroke-width="2.0" fill="none"/>
<path d="M872.4,1313.0v12.0M978.1,1313.0v12.0M1083.9,1313.0v12.0M1189.6,1313.0v12.0M1295.4,1313.0v12.0M1401.1,1313.0v12.0M1506.8,1313.0v12.0M1612.6,1313.0v12.0M925.3,1313.0v6.0M1031.0,1313.0v6.0M1136.7,1313.0v6.0M1242.5,1313.0v6.0M1348.2,1313.0v6.0M1454.0,1313.0v6.0M1559.7,1313.0v6.0" stroke="#000" stroke-width="2.0" fill="none"/>
<text transform="translate(843.04,1366.50) scale(0.9752,1)" font-size="39.80" fill="#000">0.75</text>
<text transform="translate(951.72,1366.50) scale(0.9249,1)" font-size="39.80" fill="#000">1.0</text>
<text transform="translate(1046.70,1366.50) scale(0.9322,1)" font-size="39.80" fill="#000">1.25</text>
<text transform="translate(1167.59,1366.50) scale(0.9702,1)" font-size="39.80" fill="#000">1.5</text>
<text transform="translate(1264.46,1366.50) scale(0.9459,1)" font-size="39.80" fill="#000">1.75</text>
<text transform="translate(1377.27,1366.50) scale(1.0113,1)" font-size="39.80" fill="#000">2.0</text>
<text transform="translate(1483.56,1366.50) scale(0.9683,1)" font-size="39.80" fill="#000">2.25</text>
<text transform="translate(1589.17,1366.50) scale(0.9630,1)" font-size="39.80" fill="#000">2.5</text>
<text transform="translate(1152.95,1409.00) scale(1.0297,1)" font-size="38.50" fill="#000">Energy (keV)</text>
<rect x="858.8" y="773.9" width="41.8" height="40.1" fill="#c6ced9"/>
<text transform="translate(864.00,810.60) scale(1.0000,1)" font-size="51.00" fill="#000">d</text>
<text transform="translate(928.26,819.80) scale(0.9050,1)" font-size="43.50" fill="#000">Cu</text>
<text transform="translate(872.36,1233.70) scale(0.9050,1)" font-size="43.50" fill="#000">Cu</text>
<text transform="translate(1065.65,1108.90) scale(1.0618,1)" font-size="38.50" fill="#000">Mg</text>
<text transform="translate(1296.75,1108.90) scale(1.0167,1)" font-size="38.50" fill="#000">W</text>
<text transform="translate(1521.78,1108.90) scale(0.9843,1)" font-size="38.50" fill="#000">S</text>
</svg>
</body></html>
